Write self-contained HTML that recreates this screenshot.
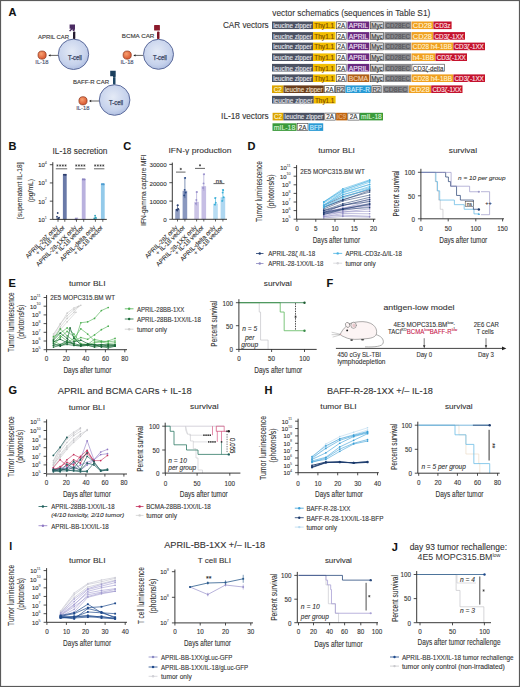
<!DOCTYPE html>
<html><head><meta charset="utf-8"><style>
html,body{margin:0;padding:0;background:#fff;}
svg{display:block;}
text{font-family:"Liberation Sans", sans-serif;}
</style></head><body>
<svg width="520" height="687" viewBox="0 0 520 687" font-family='"Liberation Sans", sans-serif'>
<defs>
<radialGradient id="cellg" cx="0.45" cy="0.4" r="0.65"><stop offset="0" stop-color="#e4eaf6"/><stop offset="0.7" stop-color="#c6d2ec"/><stop offset="1" stop-color="#a9b9de"/></radialGradient>
<radialGradient id="ballg" cx="0.4" cy="0.35" r="0.7"><stop offset="0" stop-color="#f8a070"/><stop offset="1" stop-color="#d5502a"/></radialGradient>
</defs>
<rect width="520" height="687" fill="#fff"/>
<rect x="0.50" y="0.50" width="519.00" height="686.00" fill="none" stroke="#5a5a5a" stroke-width="1.2" />
<text x="8.60" y="11.90" font-size="11.0" fill="#111" stroke="#111" stroke-width="0.1" font-weight="bold" dominant-baseline="central" >A</text>
<circle cx="73.5" cy="54.3" r="15.2" fill="url(#cellg)" stroke="#5d6c9c" stroke-width="1.0"/>
<text x="74.90" y="57.10" font-size="6.6" fill="#34405e" stroke="#34405e" stroke-width="0.25" text-anchor="middle" textLength="14" lengthAdjust="spacingAndGlyphs" dominant-baseline="central" >T-cell</text>
<circle cx="42.1" cy="55.1" r="4.1" fill="url(#ballg)" stroke="#8a3418" stroke-width="0.7"/>
<text x="41.90" y="62.30" font-size="5.9" fill="#4a5572" stroke="#4a5572" stroke-width="0.15" text-anchor="middle" textLength="13.2" lengthAdjust="spacingAndGlyphs" dominant-baseline="central" >IL-18</text>
<line x1="58.00" y1="55.40" x2="49.80" y2="55.40" stroke="#222" stroke-width="0.7" />
<path d="M48.30,55.40 l2.2,-1.2 l0,2.4 z" fill="#222"/>
<circle cx="158.5" cy="54.3" r="15.0" fill="url(#cellg)" stroke="#5d6c9c" stroke-width="1.0"/>
<text x="159.90" y="57.10" font-size="6.6" fill="#34405e" stroke="#34405e" stroke-width="0.25" text-anchor="middle" textLength="14" lengthAdjust="spacingAndGlyphs" dominant-baseline="central" >T-cell</text>
<circle cx="127.2" cy="55.1" r="4.1" fill="url(#ballg)" stroke="#8a3418" stroke-width="0.7"/>
<text x="127.00" y="62.30" font-size="5.9" fill="#4a5572" stroke="#4a5572" stroke-width="0.15" text-anchor="middle" textLength="13.2" lengthAdjust="spacingAndGlyphs" dominant-baseline="central" >IL-18</text>
<line x1="143.00" y1="55.40" x2="134.80" y2="55.40" stroke="#222" stroke-width="0.7" />
<path d="M133.30,55.40 l2.2,-1.2 l0,2.4 z" fill="#222"/>
<circle cx="114.6" cy="100" r="15.3" fill="url(#cellg)" stroke="#5d6c9c" stroke-width="1.0"/>
<text x="116.00" y="102.80" font-size="6.6" fill="#34405e" stroke="#34405e" stroke-width="0.25" text-anchor="middle" textLength="14" lengthAdjust="spacingAndGlyphs" dominant-baseline="central" >T-cell</text>
<circle cx="83" cy="100.8" r="4.1" fill="url(#ballg)" stroke="#8a3418" stroke-width="0.7"/>
<text x="82.80" y="108.00" font-size="5.9" fill="#4a5572" stroke="#4a5572" stroke-width="0.15" text-anchor="middle" textLength="13.2" lengthAdjust="spacingAndGlyphs" dominant-baseline="central" >IL-18</text>
<line x1="99.00" y1="101.00" x2="90.50" y2="101.00" stroke="#222" stroke-width="0.7" />
<path d="M89.00,101.00 l2.2,-1.2 l0,2.4 z" fill="#222"/>
<text x="38.00" y="36.60" font-size="6.2" fill="#3c3c3c" stroke="#3c3c3c" stroke-width="0.15" textLength="31" lengthAdjust="spacingAndGlyphs" dominant-baseline="central" >APRIL CAR</text>
<text x="121.80" y="35.60" font-size="6.2" fill="#3c3c3c" stroke="#3c3c3c" stroke-width="0.15" textLength="32.5" lengthAdjust="spacingAndGlyphs" dominant-baseline="central" >BCMA CAR</text>
<text x="73.00" y="81.60" font-size="6.2" fill="#3c3c3c" stroke="#3c3c3c" stroke-width="0.15" textLength="36" lengthAdjust="spacingAndGlyphs" dominant-baseline="central" >BAFF-R CAR</text>
<rect x="73.00" y="31.40" width="2.30" height="7.60" fill="#231a2e" rx="0.8" />
<path d="M69.6,24.4 h5.4 v4.6 l-0.6,2 h-1.6 l-0.4,-1.8 l-2.2,2.4 l-1.2,-0.9 l2.1,-2 h-1.5 z" fill="#4b2c63"/>
<rect x="157.00" y="31.40" width="2.50" height="7.60" fill="#7e1626" rx="0.8" />
<rect x="154.10" y="25.00" width="5.80" height="5.40" fill="#8c1a2c" rx="0.5" />
<rect x="113.00" y="77.30" width="2.50" height="7.20" fill="#1e4766" rx="0.8" />
<path d="M110.2,70.8 h5.5 v5.4 l-0.3,1.4 h-2.4 v-1.4 h-2.8 z" fill="#1c3f5e"/>
<text x="272.30" y="13.40" font-size="8.75" fill="#333" stroke="#333" stroke-width="0.1" textLength="158" lengthAdjust="spacingAndGlyphs" dominant-baseline="central" >vector schematics (sequences in Table S1)</text>
<text x="222.90" y="25.00" font-size="8.8" fill="#333" stroke="#333" stroke-width="0.1" textLength="45.8" lengthAdjust="spacingAndGlyphs" dominant-baseline="central" >CAR vectors</text>
<text x="221.10" y="116.10" font-size="8.6" fill="#333" stroke="#333" stroke-width="0.1" textLength="47.6" lengthAdjust="spacingAndGlyphs" dominant-baseline="central" >IL-18 vectors</text>
<rect x="272.00" y="21.50" width="41.00" height="7.60" fill="#4c5262" />
<text x="292.50" y="25.65" font-size="6.3" fill="#e6e8ee" stroke="#e6e8ee" stroke-width="0.12" text-anchor="middle" textLength="38.6" lengthAdjust="spacingAndGlyphs" dominant-baseline="central" >leucine zipper</text>
<rect x="313.00" y="21.50" width="22.50" height="7.60" fill="#f2be00" />
<text x="324.25" y="25.65" font-size="6.3" fill="#7a4a00" stroke="#7a4a00" stroke-width="0.12" text-anchor="middle" textLength="20.1" lengthAdjust="spacingAndGlyphs" dominant-baseline="central" >Thy1.1</text>
<rect x="336.30" y="21.80" width="9.90" height="7.00" fill="#ffffff" stroke="#3a3a3a" stroke-width="0.6" />
<text x="341.25" y="25.65" font-size="6.3" fill="#333333" stroke="#333333" stroke-width="0.12" text-anchor="middle" dominant-baseline="central" >2A</text>
<rect x="347.50" y="21.50" width="21.80" height="7.60" fill="#6a2a80" />
<text x="358.40" y="25.65" font-size="6.3" fill="#f2e6f6" stroke="#f2e6f6" stroke-width="0.12" text-anchor="middle" textLength="19.400000000000013" lengthAdjust="spacingAndGlyphs" dominant-baseline="central" >APRIL</text>
<rect x="370.30" y="21.80" width="13.40" height="7.00" fill="#d6d6d6" stroke="#3a3a3a" stroke-width="0.6" />
<text x="377.00" y="25.65" font-size="6.3" fill="#333333" stroke="#333333" stroke-width="0.12" text-anchor="middle" textLength="11.6" lengthAdjust="spacingAndGlyphs" dominant-baseline="central" >Myc</text>
<rect x="384.40" y="21.50" width="26.80" height="7.60" fill="#8a8a8e" />
<text x="397.80" y="25.65" font-size="6.3" fill="#505055" stroke="#505055" stroke-width="0.12" text-anchor="middle" textLength="24.400000000000013" lengthAdjust="spacingAndGlyphs" dominant-baseline="central" >CD28EC</text>
<rect x="411.60" y="21.50" width="21.60" height="7.60" fill="#f0a020" />
<text x="422.40" y="25.65" font-size="6.3" fill="#fff3d6" stroke="#fff3d6" stroke-width="0.12" text-anchor="middle" textLength="19.199999999999967" lengthAdjust="spacingAndGlyphs" dominant-baseline="central" >CD28</text>
<rect x="433.40" y="21.50" width="18.20" height="7.60" fill="#c4122e" />
<text x="442.50" y="25.65" font-size="6.3" fill="#ffe8ea" stroke="#ffe8ea" stroke-width="0.12" text-anchor="middle" textLength="15.800000000000045" lengthAdjust="spacingAndGlyphs" dominant-baseline="central" >CD3z</text>
<rect x="272.00" y="32.10" width="41.00" height="7.60" fill="#4c5262" />
<text x="292.50" y="36.25" font-size="6.3" fill="#e6e8ee" stroke="#e6e8ee" stroke-width="0.12" text-anchor="middle" textLength="38.6" lengthAdjust="spacingAndGlyphs" dominant-baseline="central" >leucine zipper</text>
<rect x="313.00" y="32.10" width="22.50" height="7.60" fill="#f2be00" />
<text x="324.25" y="36.25" font-size="6.3" fill="#7a4a00" stroke="#7a4a00" stroke-width="0.12" text-anchor="middle" textLength="20.1" lengthAdjust="spacingAndGlyphs" dominant-baseline="central" >Thy1.1</text>
<rect x="336.30" y="32.40" width="9.90" height="7.00" fill="#ffffff" stroke="#3a3a3a" stroke-width="0.6" />
<text x="341.25" y="36.25" font-size="6.3" fill="#333333" stroke="#333333" stroke-width="0.12" text-anchor="middle" dominant-baseline="central" >2A</text>
<rect x="347.50" y="32.10" width="21.80" height="7.60" fill="#6a2a80" />
<text x="358.40" y="36.25" font-size="6.3" fill="#f2e6f6" stroke="#f2e6f6" stroke-width="0.12" text-anchor="middle" textLength="19.400000000000013" lengthAdjust="spacingAndGlyphs" dominant-baseline="central" >APRIL</text>
<rect x="370.30" y="32.40" width="13.40" height="7.00" fill="#d6d6d6" stroke="#3a3a3a" stroke-width="0.6" />
<text x="377.00" y="36.25" font-size="6.3" fill="#333333" stroke="#333333" stroke-width="0.12" text-anchor="middle" textLength="11.6" lengthAdjust="spacingAndGlyphs" dominant-baseline="central" >Myc</text>
<rect x="384.40" y="32.10" width="26.80" height="7.60" fill="#8a8a8e" />
<text x="397.80" y="36.25" font-size="6.3" fill="#505055" stroke="#505055" stroke-width="0.12" text-anchor="middle" textLength="24.400000000000013" lengthAdjust="spacingAndGlyphs" dominant-baseline="central" >CD28EC</text>
<rect x="411.60" y="32.10" width="21.60" height="7.60" fill="#f0a020" />
<text x="422.40" y="36.25" font-size="6.3" fill="#fff3d6" stroke="#fff3d6" stroke-width="0.12" text-anchor="middle" textLength="19.199999999999967" lengthAdjust="spacingAndGlyphs" dominant-baseline="central" >CD28</text>
<rect x="433.40" y="32.10" width="31.60" height="7.60" fill="#c4122e" />
<text x="449.20" y="36.25" font-size="6.3" fill="#ffe8ea" stroke="#ffe8ea" stroke-width="0.12" text-anchor="middle" textLength="29.200000000000024" lengthAdjust="spacingAndGlyphs" dominant-baseline="central" >CD3ζ-1XX</text>
<rect x="272.00" y="42.60" width="41.00" height="7.60" fill="#4c5262" />
<text x="292.50" y="46.75" font-size="6.3" fill="#e6e8ee" stroke="#e6e8ee" stroke-width="0.12" text-anchor="middle" textLength="38.6" lengthAdjust="spacingAndGlyphs" dominant-baseline="central" >leucine zipper</text>
<rect x="313.00" y="42.60" width="22.50" height="7.60" fill="#f2be00" />
<text x="324.25" y="46.75" font-size="6.3" fill="#7a4a00" stroke="#7a4a00" stroke-width="0.12" text-anchor="middle" textLength="20.1" lengthAdjust="spacingAndGlyphs" dominant-baseline="central" >Thy1.1</text>
<rect x="336.30" y="42.90" width="9.90" height="7.00" fill="#ffffff" stroke="#3a3a3a" stroke-width="0.6" />
<text x="341.25" y="46.75" font-size="6.3" fill="#333333" stroke="#333333" stroke-width="0.12" text-anchor="middle" dominant-baseline="central" >2A</text>
<rect x="347.50" y="42.60" width="21.80" height="7.60" fill="#6a2a80" />
<text x="358.40" y="46.75" font-size="6.3" fill="#f2e6f6" stroke="#f2e6f6" stroke-width="0.12" text-anchor="middle" textLength="19.400000000000013" lengthAdjust="spacingAndGlyphs" dominant-baseline="central" >APRIL</text>
<rect x="370.30" y="42.90" width="13.40" height="7.00" fill="#d6d6d6" stroke="#3a3a3a" stroke-width="0.6" />
<text x="377.00" y="46.75" font-size="6.3" fill="#333333" stroke="#333333" stroke-width="0.12" text-anchor="middle" textLength="11.6" lengthAdjust="spacingAndGlyphs" dominant-baseline="central" >Myc</text>
<rect x="384.40" y="42.60" width="26.80" height="7.60" fill="#8a8a8e" />
<text x="397.80" y="46.75" font-size="6.3" fill="#505055" stroke="#505055" stroke-width="0.12" text-anchor="middle" textLength="24.400000000000013" lengthAdjust="spacingAndGlyphs" dominant-baseline="central" >CD28EC</text>
<rect x="411.60" y="42.60" width="41.60" height="7.60" fill="#f0a020" />
<text x="432.40" y="46.75" font-size="6.3" fill="#fff3d6" stroke="#fff3d6" stroke-width="0.12" text-anchor="middle" textLength="39.19999999999997" lengthAdjust="spacingAndGlyphs" dominant-baseline="central" >CD28 h4-1BB</text>
<rect x="453.40" y="42.60" width="31.60" height="7.60" fill="#c4122e" />
<text x="469.20" y="46.75" font-size="6.3" fill="#ffe8ea" stroke="#ffe8ea" stroke-width="0.12" text-anchor="middle" textLength="29.200000000000024" lengthAdjust="spacingAndGlyphs" dominant-baseline="central" >CD3ζ-1XX</text>
<rect x="272.00" y="53.40" width="41.00" height="7.60" fill="#4c5262" />
<text x="292.50" y="57.55" font-size="6.3" fill="#e6e8ee" stroke="#e6e8ee" stroke-width="0.12" text-anchor="middle" textLength="38.6" lengthAdjust="spacingAndGlyphs" dominant-baseline="central" >leucine zipper</text>
<rect x="313.00" y="53.40" width="22.50" height="7.60" fill="#f2be00" />
<text x="324.25" y="57.55" font-size="6.3" fill="#7a4a00" stroke="#7a4a00" stroke-width="0.12" text-anchor="middle" textLength="20.1" lengthAdjust="spacingAndGlyphs" dominant-baseline="central" >Thy1.1</text>
<rect x="336.30" y="53.70" width="9.90" height="7.00" fill="#ffffff" stroke="#3a3a3a" stroke-width="0.6" />
<text x="341.25" y="57.55" font-size="6.3" fill="#333333" stroke="#333333" stroke-width="0.12" text-anchor="middle" dominant-baseline="central" >2A</text>
<rect x="347.50" y="53.40" width="21.80" height="7.60" fill="#6a2a80" />
<text x="358.40" y="57.55" font-size="6.3" fill="#f2e6f6" stroke="#f2e6f6" stroke-width="0.12" text-anchor="middle" textLength="19.400000000000013" lengthAdjust="spacingAndGlyphs" dominant-baseline="central" >APRIL</text>
<rect x="370.30" y="53.70" width="13.40" height="7.00" fill="#d6d6d6" stroke="#3a3a3a" stroke-width="0.6" />
<text x="377.00" y="57.55" font-size="6.3" fill="#333333" stroke="#333333" stroke-width="0.12" text-anchor="middle" textLength="11.6" lengthAdjust="spacingAndGlyphs" dominant-baseline="central" >Myc</text>
<rect x="384.40" y="53.40" width="26.80" height="7.60" fill="#8a8a8e" />
<text x="397.80" y="57.55" font-size="6.3" fill="#505055" stroke="#505055" stroke-width="0.12" text-anchor="middle" textLength="24.400000000000013" lengthAdjust="spacingAndGlyphs" dominant-baseline="central" >CD28EC</text>
<rect x="411.60" y="53.40" width="23.70" height="7.60" fill="#f0a020" />
<text x="423.45" y="57.55" font-size="6.3" fill="#fff3d6" stroke="#fff3d6" stroke-width="0.12" text-anchor="middle" textLength="21.29999999999999" lengthAdjust="spacingAndGlyphs" dominant-baseline="central" >h4-1BB</text>
<rect x="435.50" y="53.40" width="31.50" height="7.60" fill="#c4122e" />
<text x="451.25" y="57.55" font-size="6.3" fill="#ffe8ea" stroke="#ffe8ea" stroke-width="0.12" text-anchor="middle" textLength="29.1" lengthAdjust="spacingAndGlyphs" dominant-baseline="central" >CD3ζ-1XX</text>
<rect x="272.00" y="63.90" width="41.00" height="7.60" fill="#4c5262" />
<text x="292.50" y="68.05" font-size="6.3" fill="#e6e8ee" stroke="#e6e8ee" stroke-width="0.12" text-anchor="middle" textLength="38.6" lengthAdjust="spacingAndGlyphs" dominant-baseline="central" >leucine zipper</text>
<rect x="313.00" y="63.90" width="22.50" height="7.60" fill="#f2be00" />
<text x="324.25" y="68.05" font-size="6.3" fill="#7a4a00" stroke="#7a4a00" stroke-width="0.12" text-anchor="middle" textLength="20.1" lengthAdjust="spacingAndGlyphs" dominant-baseline="central" >Thy1.1</text>
<rect x="336.30" y="64.20" width="9.90" height="7.00" fill="#ffffff" stroke="#3a3a3a" stroke-width="0.6" />
<text x="341.25" y="68.05" font-size="6.3" fill="#333333" stroke="#333333" stroke-width="0.12" text-anchor="middle" dominant-baseline="central" >2A</text>
<rect x="347.50" y="63.90" width="21.80" height="7.60" fill="#6a2a80" />
<text x="358.40" y="68.05" font-size="6.3" fill="#f2e6f6" stroke="#f2e6f6" stroke-width="0.12" text-anchor="middle" textLength="19.400000000000013" lengthAdjust="spacingAndGlyphs" dominant-baseline="central" >APRIL</text>
<rect x="370.30" y="64.20" width="13.40" height="7.00" fill="#d6d6d6" stroke="#3a3a3a" stroke-width="0.6" />
<text x="377.00" y="68.05" font-size="6.3" fill="#333333" stroke="#333333" stroke-width="0.12" text-anchor="middle" textLength="11.6" lengthAdjust="spacingAndGlyphs" dominant-baseline="central" >Myc</text>
<rect x="384.40" y="63.90" width="26.80" height="7.60" fill="#8a8a8e" />
<text x="397.80" y="68.05" font-size="6.3" fill="#505055" stroke="#505055" stroke-width="0.12" text-anchor="middle" textLength="24.400000000000013" lengthAdjust="spacingAndGlyphs" dominant-baseline="central" >CD28EC</text>
<rect x="411.90" y="64.20" width="32.40" height="7.00" fill="#ffffff" stroke="#3a3a3a" stroke-width="0.6" />
<text x="428.10" y="68.05" font-size="6.3" fill="#333333" stroke="#333333" stroke-width="0.12" text-anchor="middle" textLength="30.6" lengthAdjust="spacingAndGlyphs" dominant-baseline="central" >CD3ζ-delta</text>
<rect x="272.00" y="74.40" width="41.00" height="7.60" fill="#4c5262" />
<text x="292.50" y="78.55" font-size="6.3" fill="#e6e8ee" stroke="#e6e8ee" stroke-width="0.12" text-anchor="middle" textLength="38.6" lengthAdjust="spacingAndGlyphs" dominant-baseline="central" >leucine zipper</text>
<rect x="313.00" y="74.40" width="22.50" height="7.60" fill="#f2be00" />
<text x="324.25" y="78.55" font-size="6.3" fill="#7a4a00" stroke="#7a4a00" stroke-width="0.12" text-anchor="middle" textLength="20.1" lengthAdjust="spacingAndGlyphs" dominant-baseline="central" >Thy1.1</text>
<rect x="336.30" y="74.70" width="9.90" height="7.00" fill="#ffffff" stroke="#3a3a3a" stroke-width="0.6" />
<text x="341.25" y="78.55" font-size="6.3" fill="#333333" stroke="#333333" stroke-width="0.12" text-anchor="middle" dominant-baseline="central" >2A</text>
<rect x="347.50" y="74.40" width="21.80" height="7.60" fill="#b0601a" />
<text x="358.40" y="78.55" font-size="6.3" fill="#f4d8b8" stroke="#f4d8b8" stroke-width="0.12" text-anchor="middle" textLength="19.400000000000013" lengthAdjust="spacingAndGlyphs" dominant-baseline="central" >BCMA</text>
<rect x="370.30" y="74.70" width="13.40" height="7.00" fill="#d6d6d6" stroke="#3a3a3a" stroke-width="0.6" />
<text x="377.00" y="78.55" font-size="6.3" fill="#333333" stroke="#333333" stroke-width="0.12" text-anchor="middle" textLength="11.6" lengthAdjust="spacingAndGlyphs" dominant-baseline="central" >Myc</text>
<rect x="384.40" y="74.40" width="26.80" height="7.60" fill="#8a8a8e" />
<text x="397.80" y="78.55" font-size="6.3" fill="#505055" stroke="#505055" stroke-width="0.12" text-anchor="middle" textLength="24.400000000000013" lengthAdjust="spacingAndGlyphs" dominant-baseline="central" >CD28EC</text>
<rect x="411.60" y="74.40" width="41.60" height="7.60" fill="#f0a020" />
<text x="432.40" y="78.55" font-size="6.3" fill="#fff3d6" stroke="#fff3d6" stroke-width="0.12" text-anchor="middle" textLength="39.19999999999997" lengthAdjust="spacingAndGlyphs" dominant-baseline="central" >CD28 h4-1BB</text>
<rect x="453.40" y="74.40" width="31.60" height="7.60" fill="#c4122e" />
<text x="469.20" y="78.55" font-size="6.3" fill="#ffe8ea" stroke="#ffe8ea" stroke-width="0.12" text-anchor="middle" textLength="29.200000000000024" lengthAdjust="spacingAndGlyphs" dominant-baseline="central" >CD3ζ-1XX</text>
<rect x="272.00" y="85.40" width="11.50" height="7.60" fill="#dba400" />
<text x="277.75" y="89.55" font-size="6.3" fill="#fff8d8" stroke="#fff8d8" stroke-width="0.12" text-anchor="middle" dominant-baseline="central" >C2</text>
<rect x="283.50" y="85.40" width="40.30" height="7.60" fill="#6a3e1c" />
<text x="303.65" y="89.55" font-size="6.3" fill="#f2e2d0" stroke="#f2e2d0" stroke-width="0.12" text-anchor="middle" textLength="37.90000000000001" lengthAdjust="spacingAndGlyphs" dominant-baseline="central" >leucine zipper</text>
<rect x="324.50" y="85.70" width="10.00" height="7.00" fill="#ffffff" stroke="#3a3a3a" stroke-width="0.6" />
<text x="329.50" y="89.55" font-size="6.3" fill="#333333" stroke="#333333" stroke-width="0.12" text-anchor="middle" dominant-baseline="central" >2A</text>
<rect x="335.50" y="85.70" width="9.40" height="7.00" fill="#cfcfd2" stroke="#3a3a3a" stroke-width="0.6" />
<text x="340.20" y="89.55" font-size="6.3" fill="#444444" stroke="#444444" stroke-width="0.12" text-anchor="middle" dominant-baseline="central" >R2</text>
<rect x="345.40" y="85.40" width="25.60" height="7.60" fill="#2a9ad4" />
<text x="358.20" y="89.55" font-size="6.3" fill="#d8f0ff" stroke="#d8f0ff" stroke-width="0.12" text-anchor="middle" textLength="23.200000000000024" lengthAdjust="spacingAndGlyphs" dominant-baseline="central" >BAFF-R</text>
<rect x="371.80" y="85.70" width="9.40" height="7.00" fill="#cfcfd2" stroke="#3a3a3a" stroke-width="0.6" />
<text x="376.50" y="89.55" font-size="6.3" fill="#444444" stroke="#444444" stroke-width="0.12" text-anchor="middle" dominant-baseline="central" >R2</text>
<rect x="382.60" y="85.40" width="26.00" height="7.60" fill="#8a8a8e" />
<text x="395.60" y="89.55" font-size="6.3" fill="#505055" stroke="#505055" stroke-width="0.12" text-anchor="middle" textLength="23.6" lengthAdjust="spacingAndGlyphs" dominant-baseline="central" >CD8EC</text>
<rect x="409.00" y="85.40" width="22.00" height="7.60" fill="#f0a020" />
<text x="420.00" y="89.55" font-size="6.3" fill="#fff3d6" stroke="#fff3d6" stroke-width="0.12" text-anchor="middle" textLength="19.6" lengthAdjust="spacingAndGlyphs" dominant-baseline="central" >CD28</text>
<rect x="431.20" y="85.40" width="31.30" height="7.60" fill="#c4122e" />
<text x="446.85" y="89.55" font-size="6.3" fill="#ffe8ea" stroke="#ffe8ea" stroke-width="0.12" text-anchor="middle" textLength="28.900000000000013" lengthAdjust="spacingAndGlyphs" dominant-baseline="central" >CD3ζ-1XX</text>
<rect x="272.00" y="95.90" width="41.80" height="7.60" fill="#4c5262" />
<text x="292.90" y="100.05" font-size="6.3" fill="#e6e8ee" stroke="#e6e8ee" stroke-width="0.12" text-anchor="middle" textLength="39.40000000000001" lengthAdjust="spacingAndGlyphs" dominant-baseline="central" >leucine zipper</text>
<rect x="313.80" y="95.90" width="21.80" height="7.60" fill="#f2be00" />
<text x="324.70" y="100.05" font-size="6.3" fill="#7a4a00" stroke="#7a4a00" stroke-width="0.12" text-anchor="middle" textLength="19.400000000000013" lengthAdjust="spacingAndGlyphs" dominant-baseline="central" >Thy1.1</text>
<rect x="272.60" y="112.80" width="10.80" height="7.60" fill="#dba400" />
<text x="278.00" y="116.95" font-size="6.3" fill="#fff8d8" stroke="#fff8d8" stroke-width="0.12" text-anchor="middle" dominant-baseline="central" >C2</text>
<rect x="283.40" y="112.80" width="40.80" height="7.60" fill="#4c5262" />
<text x="303.80" y="116.95" font-size="6.3" fill="#e6e8ee" stroke="#e6e8ee" stroke-width="0.12" text-anchor="middle" textLength="38.40000000000001" lengthAdjust="spacingAndGlyphs" dominant-baseline="central" >leucine zipper</text>
<rect x="324.80" y="113.10" width="10.70" height="7.00" fill="#ffffff" stroke="#3a3a3a" stroke-width="0.6" />
<text x="330.15" y="116.95" font-size="6.3" fill="#333333" stroke="#333333" stroke-width="0.12" text-anchor="middle" dominant-baseline="central" >2A</text>
<rect x="336.10" y="112.80" width="11.10" height="7.60" fill="#c0650e" />
<text x="341.65" y="116.95" font-size="6.3" fill="#e8b888" stroke="#e8b888" stroke-width="0.12" text-anchor="middle" textLength="8.699999999999966" lengthAdjust="spacingAndGlyphs" dominant-baseline="central" >iC9</text>
<rect x="347.80" y="113.10" width="11.50" height="7.00" fill="#ffffff" stroke="#3a3a3a" stroke-width="0.6" />
<text x="353.55" y="116.95" font-size="6.3" fill="#333333" stroke="#333333" stroke-width="0.12" text-anchor="middle" dominant-baseline="central" >2A</text>
<rect x="359.90" y="112.80" width="23.10" height="7.60" fill="#3a9a3a" />
<text x="371.45" y="116.95" font-size="6.3" fill="#d8f4d8" stroke="#d8f4d8" stroke-width="0.12" text-anchor="middle" textLength="20.700000000000024" lengthAdjust="spacingAndGlyphs" dominant-baseline="central" >mIL-18</text>
<rect x="272.50" y="123.30" width="24.10" height="7.60" fill="#3a9a3a" />
<text x="284.55" y="127.45" font-size="6.3" fill="#d8f4d8" stroke="#d8f4d8" stroke-width="0.12" text-anchor="middle" textLength="21.700000000000024" lengthAdjust="spacingAndGlyphs" dominant-baseline="central" >mIL-18</text>
<rect x="297.20" y="123.60" width="10.80" height="7.00" fill="#ffffff" stroke="#3a3a3a" stroke-width="0.6" />
<text x="302.60" y="127.45" font-size="6.3" fill="#333333" stroke="#333333" stroke-width="0.12" text-anchor="middle" dominant-baseline="central" >2A</text>
<rect x="308.60" y="123.30" width="14.60" height="7.60" fill="#2a9ad4" />
<text x="315.90" y="127.45" font-size="6.3" fill="#d8f0ff" stroke="#d8f0ff" stroke-width="0.12" text-anchor="middle" textLength="12.199999999999966" lengthAdjust="spacingAndGlyphs" dominant-baseline="central" >BFP</text>
<text x="8.60" y="145.90" font-size="11.0" fill="#111" stroke="#111" stroke-width="0.1" font-weight="bold" dominant-baseline="central" >B</text>
<text x="80.00" y="150.60" font-size="8.3" fill="#333" stroke="#333" stroke-width="0.1" text-anchor="middle" textLength="55" lengthAdjust="spacingAndGlyphs" dominant-baseline="central" >IL-18 secretion</text>
<text x="20.00" y="190.70" font-size="7.8" fill="#333" stroke="#333" stroke-width="0.1" text-anchor="middle" textLength="56.5" lengthAdjust="spacingAndGlyphs" dominant-baseline="central" transform="rotate(-90 20.00 190.70)" >[supernatant IL-18]</text>
<text x="30.30" y="190.60" font-size="7.8" fill="#333" stroke="#333" stroke-width="0.1" text-anchor="middle" textLength="23.5" lengthAdjust="spacingAndGlyphs" dominant-baseline="central" transform="rotate(-90 30.30 190.60)" >(pg/mL)</text>
<rect x="62.90" y="174.20" width="3.80" height="45.20" fill="#6a7aa8" />
<line x1="63.20" y1="174.40" x2="66.40" y2="174.40" stroke="#2a3a6a" stroke-width="0.9" />
<rect x="81.80" y="178.90" width="3.80" height="40.50" fill="#b9b1de" />
<line x1="82.10" y1="179.10" x2="85.30" y2="179.10" stroke="#7a72b0" stroke-width="0.9" />
<rect x="100.90" y="183.70" width="3.80" height="35.70" fill="#93caea" />
<line x1="101.20" y1="183.90" x2="104.40" y2="183.90" stroke="#3a90c8" stroke-width="0.9" />
<rect x="56.40" y="217.58" width="3.20" height="1.82" fill="#2a3f70" opacity="0.6"/>
<circle cx="57.00" cy="216.67" r="0.9" fill="#2a3f70" />
<circle cx="57.70" cy="213.02" r="0.9" fill="#2a3f70" />
<circle cx="58.40" cy="218.49" r="0.9" fill="#2a3f70" />
<circle cx="59.10" cy="217.58" r="0.9" fill="#2a3f70" />
<rect x="74.90" y="217.58" width="3.20" height="1.82" fill="#8a82c0" opacity="0.6"/>
<circle cx="75.50" cy="219.40" r="0.9" fill="#8a82c0" />
<circle cx="76.20" cy="219.04" r="0.9" fill="#8a82c0" />
<rect x="93.80" y="217.58" width="3.20" height="1.82" fill="#2aa0b8" opacity="0.6"/>
<circle cx="94.40" cy="218.49" r="0.9" fill="#2aa0b8" />
<circle cx="95.10" cy="215.75" r="0.9" fill="#2aa0b8" />
<circle cx="95.80" cy="217.58" r="0.9" fill="#2aa0b8" />
<circle cx="64.00" cy="174.80" r="0.9" fill="#2a3a6a" />
<circle cx="65.60" cy="174.90" r="0.9" fill="#2a3a6a" />
<circle cx="82.90" cy="179.50" r="0.9" fill="#8a82c0" />
<circle cx="84.50" cy="179.60" r="0.9" fill="#8a82c0" />
<circle cx="102.00" cy="184.30" r="0.9" fill="#4a9ad0" />
<circle cx="103.60" cy="184.40" r="0.9" fill="#4a9ad0" />
<line x1="52.80" y1="162.20" x2="52.80" y2="219.40" stroke="#222" stroke-width="0.9" />
<line x1="49.80" y1="164.70" x2="52.80" y2="164.70" stroke="#222" stroke-width="0.8" />
<text x="46.80" y="165.20" font-size="5.9" fill="#333" stroke="#333" stroke-width="0.12" text-anchor="end" dominant-baseline="central">10<tspan font-size="3.7" dy="-2.3" fill="#666" stroke="#666" stroke-width="0.08">4</tspan></text>
<line x1="49.80" y1="182.93" x2="52.80" y2="182.93" stroke="#222" stroke-width="0.8" />
<text x="46.80" y="183.43" font-size="5.9" fill="#333" stroke="#333" stroke-width="0.12" text-anchor="end" dominant-baseline="central">10<tspan font-size="3.7" dy="-2.3" fill="#666" stroke="#666" stroke-width="0.08">3</tspan></text>
<line x1="49.80" y1="201.17" x2="52.80" y2="201.17" stroke="#222" stroke-width="0.8" />
<text x="46.80" y="201.67" font-size="5.9" fill="#333" stroke="#333" stroke-width="0.12" text-anchor="end" dominant-baseline="central">10<tspan font-size="3.7" dy="-2.3" fill="#666" stroke="#666" stroke-width="0.08">2</tspan></text>
<line x1="49.80" y1="219.40" x2="52.80" y2="219.40" stroke="#222" stroke-width="0.8" />
<text x="46.80" y="219.90" font-size="5.9" fill="#333" stroke="#333" stroke-width="0.12" text-anchor="end" dominant-baseline="central">10<tspan font-size="3.7" dy="-2.3" fill="#666" stroke="#666" stroke-width="0.08">1</tspan></text>
<line x1="52.80" y1="219.40" x2="106.80" y2="219.40" stroke="#222" stroke-width="0.9" />
<line x1="58.00" y1="219.40" x2="58.00" y2="221.80" stroke="#222" stroke-width="0.7" />
<line x1="64.80" y1="219.40" x2="64.80" y2="221.80" stroke="#222" stroke-width="0.7" />
<line x1="76.50" y1="219.40" x2="76.50" y2="221.80" stroke="#222" stroke-width="0.7" />
<line x1="83.70" y1="219.40" x2="83.70" y2="221.80" stroke="#222" stroke-width="0.7" />
<line x1="95.40" y1="219.40" x2="95.40" y2="221.80" stroke="#222" stroke-width="0.7" />
<line x1="102.80" y1="219.40" x2="102.80" y2="221.80" stroke="#222" stroke-width="0.7" />
<line x1="55.80" y1="168.80" x2="67.20" y2="168.80" stroke="#222" stroke-width="0.7" />
<line x1="57.45" y1="164.35" x2="57.45" y2="166.65" stroke="#222" stroke-width="0.55" />
<line x1="56.45" y1="164.93" x2="58.45" y2="166.07" stroke="#222" stroke-width="0.55" />
<line x1="56.45" y1="166.07" x2="58.45" y2="164.93" stroke="#222" stroke-width="0.55" />
<line x1="60.15" y1="164.35" x2="60.15" y2="166.65" stroke="#222" stroke-width="0.55" />
<line x1="59.15" y1="164.93" x2="61.15" y2="166.07" stroke="#222" stroke-width="0.55" />
<line x1="59.15" y1="166.07" x2="61.15" y2="164.93" stroke="#222" stroke-width="0.55" />
<line x1="62.85" y1="164.35" x2="62.85" y2="166.65" stroke="#222" stroke-width="0.55" />
<line x1="61.85" y1="164.93" x2="63.85" y2="166.07" stroke="#222" stroke-width="0.55" />
<line x1="61.85" y1="166.07" x2="63.85" y2="164.93" stroke="#222" stroke-width="0.55" />
<line x1="65.55" y1="164.35" x2="65.55" y2="166.65" stroke="#222" stroke-width="0.55" />
<line x1="64.55" y1="164.93" x2="66.55" y2="166.07" stroke="#222" stroke-width="0.55" />
<line x1="64.55" y1="166.07" x2="66.55" y2="164.93" stroke="#222" stroke-width="0.55" />
<line x1="75.10" y1="168.80" x2="85.50" y2="168.80" stroke="#222" stroke-width="0.7" />
<line x1="76.25" y1="164.35" x2="76.25" y2="166.65" stroke="#222" stroke-width="0.55" />
<line x1="75.25" y1="164.93" x2="77.25" y2="166.07" stroke="#222" stroke-width="0.55" />
<line x1="75.25" y1="166.07" x2="77.25" y2="164.93" stroke="#222" stroke-width="0.55" />
<line x1="78.95" y1="164.35" x2="78.95" y2="166.65" stroke="#222" stroke-width="0.55" />
<line x1="77.95" y1="164.93" x2="79.95" y2="166.07" stroke="#222" stroke-width="0.55" />
<line x1="77.95" y1="166.07" x2="79.95" y2="164.93" stroke="#222" stroke-width="0.55" />
<line x1="81.65" y1="164.35" x2="81.65" y2="166.65" stroke="#222" stroke-width="0.55" />
<line x1="80.65" y1="164.93" x2="82.65" y2="166.07" stroke="#222" stroke-width="0.55" />
<line x1="80.65" y1="166.07" x2="82.65" y2="164.93" stroke="#222" stroke-width="0.55" />
<line x1="84.35" y1="164.35" x2="84.35" y2="166.65" stroke="#222" stroke-width="0.55" />
<line x1="83.35" y1="164.93" x2="85.35" y2="166.07" stroke="#222" stroke-width="0.55" />
<line x1="83.35" y1="166.07" x2="85.35" y2="164.93" stroke="#222" stroke-width="0.55" />
<line x1="94.00" y1="168.80" x2="104.40" y2="168.80" stroke="#222" stroke-width="0.7" />
<line x1="95.15" y1="164.35" x2="95.15" y2="166.65" stroke="#222" stroke-width="0.55" />
<line x1="94.15" y1="164.93" x2="96.15" y2="166.07" stroke="#222" stroke-width="0.55" />
<line x1="94.15" y1="166.07" x2="96.15" y2="164.93" stroke="#222" stroke-width="0.55" />
<line x1="97.85" y1="164.35" x2="97.85" y2="166.65" stroke="#222" stroke-width="0.55" />
<line x1="96.85" y1="164.93" x2="98.85" y2="166.07" stroke="#222" stroke-width="0.55" />
<line x1="96.85" y1="166.07" x2="98.85" y2="164.93" stroke="#222" stroke-width="0.55" />
<line x1="100.55" y1="164.35" x2="100.55" y2="166.65" stroke="#222" stroke-width="0.55" />
<line x1="99.55" y1="164.93" x2="101.55" y2="166.07" stroke="#222" stroke-width="0.55" />
<line x1="99.55" y1="166.07" x2="101.55" y2="164.93" stroke="#222" stroke-width="0.55" />
<line x1="103.25" y1="164.35" x2="103.25" y2="166.65" stroke="#222" stroke-width="0.55" />
<line x1="102.25" y1="164.93" x2="104.25" y2="166.07" stroke="#222" stroke-width="0.55" />
<line x1="102.25" y1="166.07" x2="104.25" y2="164.93" stroke="#222" stroke-width="0.55" />
<text x="56.80" y="226.30" font-size="6.3" fill="#333" stroke="#333" stroke-width="0.1" text-anchor="end" dominant-baseline="central" transform="rotate(-45 56.80 226.30)" >APRIL-28ζ only</text>
<text x="63.60" y="226.30" font-size="6.3" fill="#333" stroke="#333" stroke-width="0.1" text-anchor="end" dominant-baseline="central" transform="rotate(-45 63.60 226.30)" >+ IL-18 vector</text>
<text x="75.30" y="226.30" font-size="6.3" fill="#333" stroke="#333" stroke-width="0.1" text-anchor="end" dominant-baseline="central" transform="rotate(-45 75.30 226.30)" >APRIL-28-1XX only</text>
<text x="82.50" y="226.30" font-size="6.3" fill="#333" stroke="#333" stroke-width="0.1" text-anchor="end" dominant-baseline="central" transform="rotate(-45 82.50 226.30)" >+ IL-18 vector</text>
<text x="94.20" y="226.30" font-size="6.3" fill="#333" stroke="#333" stroke-width="0.1" text-anchor="end" dominant-baseline="central" transform="rotate(-45 94.20 226.30)" >APRIL-delta only</text>
<text x="101.60" y="226.30" font-size="6.3" fill="#333" stroke="#333" stroke-width="0.1" text-anchor="end" dominant-baseline="central" transform="rotate(-45 101.60 226.30)" >+ IL-18 vector</text>
<text x="123.30" y="145.90" font-size="11.0" fill="#111" stroke="#111" stroke-width="0.1" font-weight="bold" dominant-baseline="central" >C</text>
<text x="168.50" y="150.70" font-size="8.1" fill="#333" stroke="#333" stroke-width="0.1" textLength="63" lengthAdjust="spacingAndGlyphs" dominant-baseline="central" >IFN-γ production</text>
<text x="143.50" y="190.20" font-size="7.6" fill="#333" stroke="#333" stroke-width="0.1" text-anchor="middle" textLength="71" lengthAdjust="spacingAndGlyphs" dominant-baseline="central" transform="rotate(-90 143.50 190.20)" >IFN-gamma capture MFI</text>
<rect x="175.20" y="209.18" width="4.60" height="10.12" fill="#919ec2" />
<line x1="177.50" y1="211.02" x2="177.50" y2="205.32" stroke="#2a3f70" stroke-width="0.6" />
<line x1="176.50" y1="205.32" x2="178.50" y2="205.32" stroke="#2a3f70" stroke-width="0.6" />
<circle cx="176.75" cy="209.73" r="0.95" fill="#2a3f70" />
<circle cx="177.25" cy="210.47" r="0.95" fill="#2a3f70" />
<circle cx="177.75" cy="205.32" r="0.95" fill="#2a3f70" />
<circle cx="178.25" cy="209.00" r="0.95" fill="#2a3f70" />
<rect x="182.60" y="190.78" width="4.60" height="28.52" fill="#8a98bf" />
<line x1="184.90" y1="198.14" x2="184.90" y2="177.90" stroke="#2a4a86" stroke-width="0.6" />
<line x1="183.90" y1="177.90" x2="185.90" y2="177.90" stroke="#2a4a86" stroke-width="0.6" />
<circle cx="184.15" cy="195.38" r="0.95" fill="#2a4a86" />
<circle cx="184.65" cy="189.86" r="0.95" fill="#2a4a86" />
<circle cx="185.15" cy="177.90" r="0.95" fill="#2a4a86" />
<circle cx="185.65" cy="192.62" r="0.95" fill="#2a4a86" />
<rect x="194.30" y="201.82" width="4.60" height="17.48" fill="#cbc4e6" />
<line x1="196.60" y1="205.50" x2="196.60" y2="192.07" stroke="#9a92cc" stroke-width="0.6" />
<line x1="195.60" y1="192.07" x2="197.60" y2="192.07" stroke="#9a92cc" stroke-width="0.6" />
<circle cx="195.85" cy="203.66" r="0.95" fill="#9a92cc" />
<circle cx="196.35" cy="199.98" r="0.95" fill="#9a92cc" />
<circle cx="196.85" cy="192.07" r="0.95" fill="#9a92cc" />
<rect x="201.50" y="186.18" width="4.60" height="33.12" fill="#c6bee4" />
<line x1="203.80" y1="190.78" x2="203.80" y2="174.22" stroke="#9a92cc" stroke-width="0.6" />
<line x1="202.80" y1="174.22" x2="204.80" y2="174.22" stroke="#9a92cc" stroke-width="0.6" />
<circle cx="203.05" cy="188.02" r="0.95" fill="#9a92cc" />
<circle cx="203.55" cy="183.42" r="0.95" fill="#9a92cc" />
<circle cx="204.05" cy="174.22" r="0.95" fill="#9a92cc" />
<rect x="213.20" y="203.66" width="4.60" height="15.64" fill="#b8ddf3" />
<line x1="215.50" y1="205.50" x2="215.50" y2="197.59" stroke="#3ab0d8" stroke-width="0.6" />
<line x1="214.50" y1="197.59" x2="216.50" y2="197.59" stroke="#3ab0d8" stroke-width="0.6" />
<circle cx="214.75" cy="204.58" r="0.95" fill="#3ab0d8" />
<circle cx="215.25" cy="198.14" r="0.95" fill="#3ab0d8" />
<circle cx="215.75" cy="202.74" r="0.95" fill="#3ab0d8" />
<rect x="220.60" y="197.22" width="4.60" height="22.08" fill="#aed7f1" />
<line x1="222.90" y1="201.27" x2="222.90" y2="189.49" stroke="#3ab0d8" stroke-width="0.6" />
<line x1="221.90" y1="189.49" x2="223.90" y2="189.49" stroke="#3ab0d8" stroke-width="0.6" />
<circle cx="222.15" cy="200.90" r="0.95" fill="#3ab0d8" />
<circle cx="222.65" cy="192.62" r="0.95" fill="#3ab0d8" />
<circle cx="223.15" cy="190.23" r="0.95" fill="#3ab0d8" />
<circle cx="223.65" cy="197.22" r="0.95" fill="#3ab0d8" />
<line x1="172.30" y1="162.60" x2="172.30" y2="219.30" stroke="#222" stroke-width="0.9" />
<line x1="169.30" y1="164.40" x2="172.30" y2="164.40" stroke="#222" stroke-width="0.8" />
<text x="166.70" y="164.70" font-size="6.2" fill="#333" stroke="#333" stroke-width="0.1" text-anchor="end" dominant-baseline="central" >30000</text>
<line x1="169.30" y1="182.70" x2="172.30" y2="182.70" stroke="#222" stroke-width="0.8" />
<text x="166.70" y="183.00" font-size="6.2" fill="#333" stroke="#333" stroke-width="0.1" text-anchor="end" dominant-baseline="central" >20000</text>
<line x1="169.30" y1="201.10" x2="172.30" y2="201.10" stroke="#222" stroke-width="0.8" />
<text x="166.70" y="201.40" font-size="6.2" fill="#333" stroke="#333" stroke-width="0.1" text-anchor="end" dominant-baseline="central" >10000</text>
<line x1="169.30" y1="219.30" x2="172.30" y2="219.30" stroke="#222" stroke-width="0.8" />
<text x="166.70" y="219.60" font-size="6.2" fill="#333" stroke="#333" stroke-width="0.1" text-anchor="end" dominant-baseline="central" >0</text>
<line x1="172.30" y1="219.30" x2="227.00" y2="219.30" stroke="#222" stroke-width="0.9" />
<line x1="177.50" y1="219.30" x2="177.50" y2="221.50" stroke="#222" stroke-width="0.7" />
<line x1="184.90" y1="219.30" x2="184.90" y2="221.50" stroke="#222" stroke-width="0.7" />
<line x1="196.60" y1="219.30" x2="196.60" y2="221.50" stroke="#222" stroke-width="0.7" />
<line x1="203.80" y1="219.30" x2="203.80" y2="221.50" stroke="#222" stroke-width="0.7" />
<line x1="215.50" y1="219.30" x2="215.50" y2="221.50" stroke="#222" stroke-width="0.7" />
<line x1="222.90" y1="219.30" x2="222.90" y2="221.50" stroke="#222" stroke-width="0.7" />
<line x1="176.00" y1="172.10" x2="185.50" y2="172.10" stroke="#222" stroke-width="0.7" />
<line x1="180.75" y1="167.85" x2="180.75" y2="170.15" stroke="#222" stroke-width="0.55" />
<line x1="179.75" y1="168.43" x2="181.75" y2="169.57" stroke="#222" stroke-width="0.55" />
<line x1="179.75" y1="169.57" x2="181.75" y2="168.43" stroke="#222" stroke-width="0.55" />
<line x1="195.00" y1="168.40" x2="205.00" y2="168.40" stroke="#222" stroke-width="0.7" />
<line x1="200.00" y1="164.15" x2="200.00" y2="166.45" stroke="#222" stroke-width="0.55" />
<line x1="199.00" y1="164.73" x2="201.00" y2="165.88" stroke="#222" stroke-width="0.55" />
<line x1="199.00" y1="165.88" x2="201.00" y2="164.73" stroke="#222" stroke-width="0.55" />
<line x1="213.50" y1="183.60" x2="224.50" y2="183.60" stroke="#222" stroke-width="0.7" />
<text x="219.00" y="181.20" font-size="6.0" fill="#222" stroke="#222" stroke-width="0.1" text-anchor="middle" dominant-baseline="central" >ns</text>
<text x="176.30" y="226.30" font-size="6.3" fill="#333" stroke="#333" stroke-width="0.1" text-anchor="end" dominant-baseline="central" transform="rotate(-45 176.30 226.30)" >APRIL-28ζ only</text>
<text x="183.70" y="226.30" font-size="6.3" fill="#333" stroke="#333" stroke-width="0.1" text-anchor="end" dominant-baseline="central" transform="rotate(-45 183.70 226.30)" >+ IL-18 vector</text>
<text x="195.40" y="226.30" font-size="6.3" fill="#333" stroke="#333" stroke-width="0.1" text-anchor="end" dominant-baseline="central" transform="rotate(-45 195.40 226.30)" >APRIL-28-1XX only</text>
<text x="202.60" y="226.30" font-size="6.3" fill="#333" stroke="#333" stroke-width="0.1" text-anchor="end" dominant-baseline="central" transform="rotate(-45 202.60 226.30)" >+ IL-18 vector</text>
<text x="214.30" y="226.30" font-size="6.3" fill="#333" stroke="#333" stroke-width="0.1" text-anchor="end" dominant-baseline="central" transform="rotate(-45 214.30 226.30)" >APRIL-delta only</text>
<text x="221.70" y="226.30" font-size="6.3" fill="#333" stroke="#333" stroke-width="0.1" text-anchor="end" dominant-baseline="central" transform="rotate(-45 221.70 226.30)" >+ IL-18 vector</text>
<text x="247.40" y="146.40" font-size="11.0" fill="#111" stroke="#111" stroke-width="0.1" font-weight="bold" dominant-baseline="central" >D</text>
<text x="336.60" y="150.90" font-size="7.6" fill="#333" stroke="#333" stroke-width="0.1" text-anchor="middle" textLength="36.7" lengthAdjust="spacingAndGlyphs" dominant-baseline="central" >tumor BLI</text>
<text x="259.20" y="191.50" font-size="8.2" fill="#333" stroke="#333" stroke-width="0.1" text-anchor="middle" textLength="61" lengthAdjust="spacingAndGlyphs" dominant-baseline="central" transform="rotate(-90 259.20 191.50)" >Tumor luminescence</text>
<text x="271.30" y="191.50" font-size="8.2" fill="#333" stroke="#333" stroke-width="0.1" text-anchor="middle" textLength="34" lengthAdjust="spacingAndGlyphs" dominant-baseline="central" transform="rotate(-90 271.30 191.50)" >(photons/s)</text>
<polyline points="323.71,217.93 342.86,216.51 369.67,217.07" fill="none" stroke="#8c88c0" stroke-width="0.55" stroke-linejoin="round"/>
<circle cx="323.71" cy="217.93" r="0.8" fill="#8c88c0" />
<circle cx="342.86" cy="216.51" r="0.8" fill="#8c88c0" />
<circle cx="369.67" cy="217.07" r="0.8" fill="#8c88c0" />
<polyline points="323.71,216.54 342.86,215.15 369.67,216.30" fill="none" stroke="#8c88c0" stroke-width="0.55" stroke-linejoin="round"/>
<circle cx="323.71" cy="216.54" r="0.8" fill="#8c88c0" />
<circle cx="342.86" cy="215.15" r="0.8" fill="#8c88c0" />
<circle cx="369.67" cy="216.30" r="0.8" fill="#8c88c0" />
<polyline points="323.71,216.79 342.86,213.46 369.67,213.82" fill="none" stroke="#8c88c0" stroke-width="0.55" stroke-linejoin="round"/>
<circle cx="323.71" cy="216.79" r="0.8" fill="#8c88c0" />
<circle cx="342.86" cy="213.46" r="0.8" fill="#8c88c0" />
<circle cx="369.67" cy="213.82" r="0.8" fill="#8c88c0" />
<polyline points="323.71,215.64 342.86,211.90 369.67,211.28" fill="none" stroke="#8c88c0" stroke-width="0.55" stroke-linejoin="round"/>
<circle cx="323.71" cy="215.64" r="0.8" fill="#8c88c0" />
<circle cx="342.86" cy="211.90" r="0.8" fill="#8c88c0" />
<circle cx="369.67" cy="211.28" r="0.8" fill="#8c88c0" />
<polyline points="323.71,213.84 342.86,212.09 369.67,208.88" fill="none" stroke="#8c88c0" stroke-width="0.55" stroke-linejoin="round"/>
<circle cx="323.71" cy="213.84" r="0.8" fill="#8c88c0" />
<circle cx="342.86" cy="212.09" r="0.8" fill="#8c88c0" />
<circle cx="369.67" cy="208.88" r="0.8" fill="#8c88c0" />
<polyline points="323.71,214.26 342.86,210.54 369.67,206.28" fill="none" stroke="#8c88c0" stroke-width="0.55" stroke-linejoin="round"/>
<circle cx="323.71" cy="214.26" r="0.8" fill="#8c88c0" />
<circle cx="342.86" cy="210.54" r="0.8" fill="#8c88c0" />
<circle cx="369.67" cy="206.28" r="0.8" fill="#8c88c0" />
<polyline points="323.71,212.85 342.86,209.12 369.67,205.14" fill="none" stroke="#8c88c0" stroke-width="0.55" stroke-linejoin="round"/>
<circle cx="323.71" cy="212.85" r="0.8" fill="#8c88c0" />
<circle cx="342.86" cy="209.12" r="0.8" fill="#8c88c0" />
<circle cx="369.67" cy="205.14" r="0.8" fill="#8c88c0" />
<polyline points="323.71,212.88 342.86,207.93 369.67,203.60" fill="none" stroke="#8c88c0" stroke-width="0.55" stroke-linejoin="round"/>
<circle cx="323.71" cy="212.88" r="0.8" fill="#8c88c0" />
<circle cx="342.86" cy="207.93" r="0.8" fill="#8c88c0" />
<circle cx="369.67" cy="203.60" r="0.8" fill="#8c88c0" />
<polyline points="323.71,211.71 342.86,208.66 369.67,200.84" fill="none" stroke="#8c88c0" stroke-width="0.55" stroke-linejoin="round"/>
<circle cx="323.71" cy="211.71" r="0.8" fill="#8c88c0" />
<circle cx="342.86" cy="208.66" r="0.8" fill="#8c88c0" />
<circle cx="369.67" cy="200.84" r="0.8" fill="#8c88c0" />
<polyline points="323.71,210.65 342.86,205.74 369.67,198.98" fill="none" stroke="#8c88c0" stroke-width="0.55" stroke-linejoin="round"/>
<circle cx="323.71" cy="210.65" r="0.8" fill="#8c88c0" />
<circle cx="342.86" cy="205.74" r="0.8" fill="#8c88c0" />
<circle cx="369.67" cy="198.98" r="0.8" fill="#8c88c0" />
<polyline points="323.71,214.53 342.86,209.51 369.67,207.52" fill="none" stroke="#1f3b6e" stroke-width="0.55" stroke-linejoin="round"/>
<circle cx="323.71" cy="214.53" r="0.8" fill="#1f3b6e" />
<circle cx="342.86" cy="209.51" r="0.8" fill="#1f3b6e" />
<circle cx="369.67" cy="207.52" r="0.8" fill="#1f3b6e" />
<polyline points="323.71,213.43 342.86,209.31 369.67,203.75" fill="none" stroke="#1f3b6e" stroke-width="0.55" stroke-linejoin="round"/>
<circle cx="323.71" cy="213.43" r="0.8" fill="#1f3b6e" />
<circle cx="342.86" cy="209.31" r="0.8" fill="#1f3b6e" />
<circle cx="369.67" cy="203.75" r="0.8" fill="#1f3b6e" />
<polyline points="323.71,212.34 342.86,208.77 369.67,204.59" fill="none" stroke="#1f3b6e" stroke-width="0.55" stroke-linejoin="round"/>
<circle cx="323.71" cy="212.34" r="0.8" fill="#1f3b6e" />
<circle cx="342.86" cy="208.77" r="0.8" fill="#1f3b6e" />
<circle cx="369.67" cy="204.59" r="0.8" fill="#1f3b6e" />
<polyline points="323.71,212.52 342.86,205.10 369.67,201.65" fill="none" stroke="#1f3b6e" stroke-width="0.55" stroke-linejoin="round"/>
<circle cx="323.71" cy="212.52" r="0.8" fill="#1f3b6e" />
<circle cx="342.86" cy="205.10" r="0.8" fill="#1f3b6e" />
<circle cx="369.67" cy="201.65" r="0.8" fill="#1f3b6e" />
<polyline points="323.71,210.86 342.86,205.38 369.67,199.49" fill="none" stroke="#1f3b6e" stroke-width="0.55" stroke-linejoin="round"/>
<circle cx="323.71" cy="210.86" r="0.8" fill="#1f3b6e" />
<circle cx="342.86" cy="205.38" r="0.8" fill="#1f3b6e" />
<circle cx="369.67" cy="199.49" r="0.8" fill="#1f3b6e" />
<polyline points="323.71,210.32 342.86,203.82 369.67,197.31" fill="none" stroke="#1f3b6e" stroke-width="0.55" stroke-linejoin="round"/>
<circle cx="323.71" cy="210.32" r="0.8" fill="#1f3b6e" />
<circle cx="342.86" cy="203.82" r="0.8" fill="#1f3b6e" />
<circle cx="369.67" cy="197.31" r="0.8" fill="#1f3b6e" />
<polyline points="323.71,209.02 342.86,200.96 369.67,195.07" fill="none" stroke="#1f3b6e" stroke-width="0.55" stroke-linejoin="round"/>
<circle cx="323.71" cy="209.02" r="0.8" fill="#1f3b6e" />
<circle cx="342.86" cy="200.96" r="0.8" fill="#1f3b6e" />
<circle cx="369.67" cy="195.07" r="0.8" fill="#1f3b6e" />
<polyline points="323.71,207.47 342.86,199.65 369.67,192.09" fill="none" stroke="#1f3b6e" stroke-width="0.55" stroke-linejoin="round"/>
<circle cx="323.71" cy="207.47" r="0.8" fill="#1f3b6e" />
<circle cx="342.86" cy="199.65" r="0.8" fill="#1f3b6e" />
<circle cx="369.67" cy="192.09" r="0.8" fill="#1f3b6e" />
<polyline points="323.71,206.96 342.86,200.00 369.67,190.63" fill="none" stroke="#1f3b6e" stroke-width="0.55" stroke-linejoin="round"/>
<circle cx="323.71" cy="206.96" r="0.8" fill="#1f3b6e" />
<circle cx="342.86" cy="200.00" r="0.8" fill="#1f3b6e" />
<circle cx="369.67" cy="190.63" r="0.8" fill="#1f3b6e" />
<polyline points="323.71,205.50 342.86,196.66 369.67,189.72" fill="none" stroke="#1f3b6e" stroke-width="0.55" stroke-linejoin="round"/>
<circle cx="323.71" cy="205.50" r="0.8" fill="#1f3b6e" />
<circle cx="342.86" cy="196.66" r="0.8" fill="#1f3b6e" />
<circle cx="369.67" cy="189.72" r="0.8" fill="#1f3b6e" />
<polyline points="323.71,207.65 342.86,198.20 369.67,188.53" fill="none" stroke="#4ab2e2" stroke-width="0.55" stroke-linejoin="round"/>
<circle cx="323.71" cy="207.65" r="0.8" fill="#4ab2e2" />
<circle cx="342.86" cy="198.20" r="0.8" fill="#4ab2e2" />
<circle cx="369.67" cy="188.53" r="0.8" fill="#4ab2e2" />
<polyline points="323.71,207.13 342.86,197.02 369.67,188.80" fill="none" stroke="#4ab2e2" stroke-width="0.55" stroke-linejoin="round"/>
<circle cx="323.71" cy="207.13" r="0.8" fill="#4ab2e2" />
<circle cx="342.86" cy="197.02" r="0.8" fill="#4ab2e2" />
<circle cx="369.67" cy="188.80" r="0.8" fill="#4ab2e2" />
<polyline points="323.71,205.88 342.86,194.76 369.67,187.71" fill="none" stroke="#4ab2e2" stroke-width="0.55" stroke-linejoin="round"/>
<circle cx="323.71" cy="205.88" r="0.8" fill="#4ab2e2" />
<circle cx="342.86" cy="194.76" r="0.8" fill="#4ab2e2" />
<circle cx="369.67" cy="187.71" r="0.8" fill="#4ab2e2" />
<polyline points="323.71,205.21 342.86,194.70 369.67,186.55" fill="none" stroke="#4ab2e2" stroke-width="0.55" stroke-linejoin="round"/>
<circle cx="323.71" cy="205.21" r="0.8" fill="#4ab2e2" />
<circle cx="342.86" cy="194.70" r="0.8" fill="#4ab2e2" />
<circle cx="369.67" cy="186.55" r="0.8" fill="#4ab2e2" />
<polyline points="323.71,205.32 342.86,193.03 369.67,184.25" fill="none" stroke="#4ab2e2" stroke-width="0.55" stroke-linejoin="round"/>
<circle cx="323.71" cy="205.32" r="0.8" fill="#4ab2e2" />
<circle cx="342.86" cy="193.03" r="0.8" fill="#4ab2e2" />
<circle cx="369.67" cy="184.25" r="0.8" fill="#4ab2e2" />
<polyline points="323.71,204.98 342.86,192.25 369.67,184.63" fill="none" stroke="#4ab2e2" stroke-width="0.55" stroke-linejoin="round"/>
<circle cx="323.71" cy="204.98" r="0.8" fill="#4ab2e2" />
<circle cx="342.86" cy="192.25" r="0.8" fill="#4ab2e2" />
<circle cx="369.67" cy="184.63" r="0.8" fill="#4ab2e2" />
<polyline points="323.71,203.06 342.86,191.68 369.67,182.14" fill="none" stroke="#4ab2e2" stroke-width="0.55" stroke-linejoin="round"/>
<circle cx="323.71" cy="203.06" r="0.8" fill="#4ab2e2" />
<circle cx="342.86" cy="191.68" r="0.8" fill="#4ab2e2" />
<circle cx="369.67" cy="182.14" r="0.8" fill="#4ab2e2" />
<polyline points="323.71,201.84 342.86,190.33 369.67,180.88" fill="none" stroke="#4ab2e2" stroke-width="0.55" stroke-linejoin="round"/>
<circle cx="323.71" cy="201.84" r="0.8" fill="#4ab2e2" />
<circle cx="342.86" cy="190.33" r="0.8" fill="#4ab2e2" />
<circle cx="369.67" cy="180.88" r="0.8" fill="#4ab2e2" />
<polyline points="323.71,202.23 342.86,190.02 369.67,180.52" fill="none" stroke="#4ab2e2" stroke-width="0.55" stroke-linejoin="round"/>
<circle cx="323.71" cy="202.23" r="0.8" fill="#4ab2e2" />
<circle cx="342.86" cy="190.02" r="0.8" fill="#4ab2e2" />
<circle cx="369.67" cy="180.52" r="0.8" fill="#4ab2e2" />
<polyline points="323.71,201.95 342.86,188.76 369.67,179.80" fill="none" stroke="#4ab2e2" stroke-width="0.55" stroke-linejoin="round"/>
<circle cx="323.71" cy="201.95" r="0.8" fill="#4ab2e2" />
<circle cx="342.86" cy="188.76" r="0.8" fill="#4ab2e2" />
<circle cx="369.67" cy="179.80" r="0.8" fill="#4ab2e2" />
<line x1="296.60" y1="165.10" x2="296.60" y2="219.20" stroke="#222" stroke-width="0.9" />
<line x1="293.60" y1="167.60" x2="296.60" y2="167.60" stroke="#222" stroke-width="0.8" />
<text x="290.60" y="168.10" font-size="5.9" fill="#333" stroke="#333" stroke-width="0.12" text-anchor="end" dominant-baseline="central">10<tspan font-size="3.7" dy="-2.3" fill="#666" stroke="#666" stroke-width="0.08">11</tspan></text>
<line x1="293.60" y1="176.20" x2="296.60" y2="176.20" stroke="#222" stroke-width="0.8" />
<text x="290.60" y="176.70" font-size="5.9" fill="#333" stroke="#333" stroke-width="0.12" text-anchor="end" dominant-baseline="central">10<tspan font-size="3.7" dy="-2.3" fill="#666" stroke="#666" stroke-width="0.08">10</tspan></text>
<line x1="293.60" y1="184.80" x2="296.60" y2="184.80" stroke="#222" stroke-width="0.8" />
<text x="290.60" y="185.30" font-size="5.9" fill="#333" stroke="#333" stroke-width="0.12" text-anchor="end" dominant-baseline="central">10<tspan font-size="3.7" dy="-2.3" fill="#666" stroke="#666" stroke-width="0.08">9</tspan></text>
<line x1="293.60" y1="193.40" x2="296.60" y2="193.40" stroke="#222" stroke-width="0.8" />
<text x="290.60" y="193.90" font-size="5.9" fill="#333" stroke="#333" stroke-width="0.12" text-anchor="end" dominant-baseline="central">10<tspan font-size="3.7" dy="-2.3" fill="#666" stroke="#666" stroke-width="0.08">8</tspan></text>
<line x1="293.60" y1="202.00" x2="296.60" y2="202.00" stroke="#222" stroke-width="0.8" />
<text x="290.60" y="202.50" font-size="5.9" fill="#333" stroke="#333" stroke-width="0.12" text-anchor="end" dominant-baseline="central">10<tspan font-size="3.7" dy="-2.3" fill="#666" stroke="#666" stroke-width="0.08">7</tspan></text>
<line x1="293.60" y1="210.60" x2="296.60" y2="210.60" stroke="#222" stroke-width="0.8" />
<text x="290.60" y="211.10" font-size="5.9" fill="#333" stroke="#333" stroke-width="0.12" text-anchor="end" dominant-baseline="central">10<tspan font-size="3.7" dy="-2.3" fill="#666" stroke="#666" stroke-width="0.08">6</tspan></text>
<line x1="293.60" y1="219.20" x2="296.60" y2="219.20" stroke="#222" stroke-width="0.8" />
<text x="290.60" y="219.70" font-size="5.9" fill="#333" stroke="#333" stroke-width="0.12" text-anchor="end" dominant-baseline="central">10<tspan font-size="3.7" dy="-2.3" fill="#666" stroke="#666" stroke-width="0.08">5</tspan></text>
<line x1="296.60" y1="219.20" x2="375.40" y2="219.20" stroke="#222" stroke-width="0.9" />
<line x1="296.90" y1="219.20" x2="296.90" y2="221.80" stroke="#222" stroke-width="0.8" />
<text x="296.90" y="228.60" font-size="6.3" fill="#333" stroke="#333" stroke-width="0.1" text-anchor="middle" dominant-baseline="central" >0</text>
<line x1="315.80" y1="219.20" x2="315.80" y2="221.80" stroke="#222" stroke-width="0.8" />
<text x="315.80" y="228.60" font-size="6.3" fill="#333" stroke="#333" stroke-width="0.1" text-anchor="middle" dominant-baseline="central" >5</text>
<line x1="335.00" y1="219.20" x2="335.00" y2="221.80" stroke="#222" stroke-width="0.8" />
<text x="335.00" y="228.60" font-size="6.3" fill="#333" stroke="#333" stroke-width="0.1" text-anchor="middle" dominant-baseline="central" >10</text>
<line x1="354.20" y1="219.20" x2="354.20" y2="221.80" stroke="#222" stroke-width="0.8" />
<text x="354.20" y="228.60" font-size="6.3" fill="#333" stroke="#333" stroke-width="0.1" text-anchor="middle" dominant-baseline="central" >15</text>
<line x1="373.50" y1="219.20" x2="373.50" y2="221.80" stroke="#222" stroke-width="0.8" />
<text x="373.50" y="228.60" font-size="6.3" fill="#333" stroke="#333" stroke-width="0.1" text-anchor="middle" dominant-baseline="central" >20</text>
<text x="300.20" y="171.20" font-size="6.5" fill="#333" stroke="#333" stroke-width="0.1" textLength="64.6" lengthAdjust="spacingAndGlyphs" dominant-baseline="central" >2E5 MOPC315.BM WT</text>
<text x="336.40" y="239.50" font-size="8.6" fill="#333" stroke="#333" stroke-width="0.1" text-anchor="middle" textLength="47.3" lengthAdjust="spacingAndGlyphs" dominant-baseline="central" >Days after tumor</text>
<line x1="256.00" y1="253.50" x2="263.50" y2="253.50" stroke="#1f3b6e" stroke-width="0.8" />
<circle cx="259.75" cy="253.50" r="1.2" fill="#1f3b6e" />
<text x="268.20" y="253.80" font-size="6.9" fill="#333" stroke="#333" stroke-width="0.1" textLength="47" lengthAdjust="spacingAndGlyphs" dominant-baseline="central" >APRIL-28ζ /IL-18</text>
<line x1="256.00" y1="263.50" x2="263.50" y2="263.50" stroke="#8c88c0" stroke-width="0.8" />
<circle cx="259.75" cy="263.50" r="1.2" fill="#8c88c0" />
<text x="268.20" y="263.80" font-size="6.9" fill="#333" stroke="#333" stroke-width="0.1" textLength="55.3" lengthAdjust="spacingAndGlyphs" dominant-baseline="central" >APRIL-28-1XX/IL-18</text>
<line x1="333.20" y1="253.40" x2="342.20" y2="253.40" stroke="#4ab2e2" stroke-width="0.8" />
<circle cx="337.70" cy="253.40" r="1.2" fill="#4ab2e2" />
<text x="345.40" y="253.70" font-size="6.9" fill="#333" stroke="#333" stroke-width="0.1" textLength="56.4" lengthAdjust="spacingAndGlyphs" dominant-baseline="central" >APRIL-CD3z-Δ/IL-18</text>
<line x1="333.20" y1="263.20" x2="342.20" y2="263.20" stroke="#d4d4d8" stroke-width="0.8" />
<circle cx="337.70" cy="263.20" r="1.2" fill="#d4d4d8" />
<text x="345.40" y="263.50" font-size="6.9" fill="#333" stroke="#333" stroke-width="0.1" textLength="30.3" lengthAdjust="spacingAndGlyphs" dominant-baseline="central" >tumor only</text>
<text x="462.90" y="150.40" font-size="7.6" fill="#333" stroke="#333" stroke-width="0.1" text-anchor="middle" textLength="28.2" lengthAdjust="spacingAndGlyphs" dominant-baseline="central" >survival</text>
<text x="396.60" y="193.50" font-size="8.2" fill="#333" stroke="#333" stroke-width="0.1" text-anchor="middle" textLength="46" lengthAdjust="spacingAndGlyphs" dominant-baseline="central" transform="rotate(-90 396.60 193.50)" >Percent survival</text>
<polyline points="421.20,172.40 434.26,172.40 434.26,172.40 435.34,172.40 435.34,181.62 436.98,181.62 436.98,190.84 438.61,190.84 438.61,200.06 440.24,200.06 440.24,209.28 442.96,209.28 442.96,218.50" fill="none" stroke="#c4c4c8" stroke-width="0.7" />
<polyline points="421.20,172.40 434.26,172.40 434.26,172.40 435.89,172.40 435.89,181.62 437.52,181.62 437.52,190.84 439.70,190.84 439.70,200.06 454.38,200.06 454.38,204.67 464.18,204.67 464.18,209.28 473.97,209.28 473.97,213.89 478.86,213.89 478.86,213.89" fill="none" stroke="#5ab4e2" stroke-width="0.7" />
<polyline points="421.20,172.40 442.42,172.40 442.42,172.40 445.68,172.40 445.68,177.01 448.40,177.01 448.40,181.62 450.58,181.62 450.58,186.23 456.56,186.23 456.56,195.45 460.37,195.45 460.37,200.06 473.42,200.06 473.42,209.28 478.86,209.28 478.86,209.28" fill="none" stroke="#1f3b6e" stroke-width="0.7" />
<polyline points="421.20,172.40 451.12,172.40 451.12,172.40 451.12,172.40 451.12,186.23 469.62,186.23 469.62,186.23 469.62,186.23 469.62,191.76 478.86,191.76 478.86,191.76" fill="none" stroke="#9c98c8" stroke-width="0.7" />
<circle cx="478.86" cy="209.48" r="1.2" fill="#1f3b6e" />
<circle cx="478.86" cy="191.76" r="1.1" fill="#9c98c8" />
<path d="M477.56,214.89 l1.3,-2.3 l1.3,2.3 z" fill="#5ab4e2"/>
<polyline points="481.00,191.70 489.60,191.70 489.60,214.70 481.00,214.70" fill="none" stroke="#9c98c8" stroke-width="0.7" />
<text x="488.60" y="202.60" font-size="5.6" fill="#222" stroke="#222" stroke-width="0.1" text-anchor="middle" dominant-baseline="central" >++</text>
<rect x="465.20" y="201.50" width="8.50" height="5.20" fill="white" stroke="#333" stroke-width="0.5" />
<text x="469.40" y="204.20" font-size="5" fill="#222" stroke="#222" stroke-width="0.1" text-anchor="middle" dominant-baseline="central" >ns</text>
<line x1="420.90" y1="168.80" x2="420.90" y2="218.80" stroke="#222" stroke-width="0.9" />
<line x1="417.90" y1="172.30" x2="420.90" y2="172.30" stroke="#222" stroke-width="0.8" />
<text x="415.10" y="172.60" font-size="6.3" fill="#333" stroke="#333" stroke-width="0.1" text-anchor="end" dominant-baseline="central" >100</text>
<line x1="417.90" y1="195.80" x2="420.90" y2="195.80" stroke="#222" stroke-width="0.8" />
<text x="415.10" y="196.10" font-size="6.3" fill="#333" stroke="#333" stroke-width="0.1" text-anchor="end" dominant-baseline="central" >50</text>
<line x1="417.90" y1="218.80" x2="420.90" y2="218.80" stroke="#222" stroke-width="0.8" />
<text x="415.10" y="219.10" font-size="6.3" fill="#333" stroke="#333" stroke-width="0.1" text-anchor="end" dominant-baseline="central" >0</text>
<line x1="420.90" y1="218.80" x2="504.00" y2="218.80" stroke="#222" stroke-width="0.9" />
<line x1="420.90" y1="218.80" x2="420.90" y2="221.40" stroke="#222" stroke-width="0.8" />
<text x="420.90" y="228.60" font-size="6.3" fill="#333" stroke="#333" stroke-width="0.1" text-anchor="middle" dominant-baseline="central" >0</text>
<line x1="448.20" y1="218.80" x2="448.20" y2="221.40" stroke="#222" stroke-width="0.8" />
<text x="448.20" y="228.60" font-size="6.3" fill="#333" stroke="#333" stroke-width="0.1" text-anchor="middle" dominant-baseline="central" >50</text>
<line x1="475.80" y1="218.80" x2="475.80" y2="221.40" stroke="#222" stroke-width="0.8" />
<text x="475.80" y="228.60" font-size="6.3" fill="#333" stroke="#333" stroke-width="0.1" text-anchor="middle" dominant-baseline="central" >100</text>
<line x1="502.60" y1="218.80" x2="502.60" y2="221.40" stroke="#222" stroke-width="0.8" />
<text x="502.60" y="228.60" font-size="6.3" fill="#333" stroke="#333" stroke-width="0.1" text-anchor="middle" dominant-baseline="central" >150</text>
<text x="463.20" y="239.80" font-size="8.6" fill="#333" stroke="#333" stroke-width="0.1" text-anchor="middle" textLength="48" lengthAdjust="spacingAndGlyphs" dominant-baseline="central" >Days after tumor</text>
<text x="458.00" y="177.70" font-size="6.2" fill="#333" stroke="#333" stroke-width="0.1" font-style="italic" textLength="47.5" lengthAdjust="spacingAndGlyphs" dominant-baseline="central" >n = 10 per group</text>
<text x="8.60" y="282.60" font-size="11.0" fill="#111" stroke="#111" stroke-width="0.1" font-weight="bold" dominant-baseline="central" >E</text>
<text x="87.30" y="283.40" font-size="7.6" fill="#333" stroke="#333" stroke-width="0.1" text-anchor="middle" textLength="36.6" lengthAdjust="spacingAndGlyphs" dominant-baseline="central" >tumor BLI</text>
<text x="11.40" y="322.20" font-size="8.2" fill="#333" stroke="#333" stroke-width="0.1" text-anchor="middle" textLength="59.7" lengthAdjust="spacingAndGlyphs" dominant-baseline="central" transform="rotate(-90 11.40 322.20)" >Tumor luminescence</text>
<text x="21.50" y="321.90" font-size="8.2" fill="#333" stroke="#333" stroke-width="0.1" text-anchor="middle" textLength="34.2" lengthAdjust="spacingAndGlyphs" dominant-baseline="central" transform="rotate(-90 21.50 321.90)" >(photons/s)</text>
<polyline points="53.45,335.78 60.29,323.60 67.14,315.77 73.98,309.68 78.87,306.20" fill="none" stroke="#c8c8c8" stroke-width="0.6" stroke-linejoin="round"/>
<circle cx="53.45" cy="335.78" r="0.8" fill="#c8c8c8" />
<circle cx="60.29" cy="323.60" r="0.8" fill="#c8c8c8" />
<circle cx="67.14" cy="315.77" r="0.8" fill="#c8c8c8" />
<circle cx="73.98" cy="309.68" r="0.8" fill="#c8c8c8" />
<circle cx="78.87" cy="306.20" r="0.8" fill="#c8c8c8" />
<polyline points="53.45,337.52 60.29,327.08 67.14,318.38 73.98,312.29 77.90,307.07" fill="none" stroke="#c8c8c8" stroke-width="0.6" stroke-linejoin="round"/>
<circle cx="53.45" cy="337.52" r="0.8" fill="#c8c8c8" />
<circle cx="60.29" cy="327.08" r="0.8" fill="#c8c8c8" />
<circle cx="67.14" cy="318.38" r="0.8" fill="#c8c8c8" />
<circle cx="73.98" cy="312.29" r="0.8" fill="#c8c8c8" />
<circle cx="77.90" cy="307.07" r="0.8" fill="#c8c8c8" />
<polyline points="53.45,334.04 60.29,324.47 67.14,313.16 73.98,307.94 80.83,305.33" fill="none" stroke="#c8c8c8" stroke-width="0.6" stroke-linejoin="round"/>
<circle cx="53.45" cy="334.04" r="0.8" fill="#c8c8c8" />
<circle cx="60.29" cy="324.47" r="0.8" fill="#c8c8c8" />
<circle cx="67.14" cy="313.16" r="0.8" fill="#c8c8c8" />
<circle cx="73.98" cy="307.94" r="0.8" fill="#c8c8c8" />
<circle cx="80.83" cy="305.33" r="0.8" fill="#c8c8c8" />
<polyline points="53.45,338.39 60.29,329.69 67.14,321.86 75.94,312.29" fill="none" stroke="#c8c8c8" stroke-width="0.6" stroke-linejoin="round"/>
<circle cx="53.45" cy="338.39" r="0.8" fill="#c8c8c8" />
<circle cx="60.29" cy="329.69" r="0.8" fill="#c8c8c8" />
<circle cx="67.14" cy="321.86" r="0.8" fill="#c8c8c8" />
<circle cx="75.94" cy="312.29" r="0.8" fill="#c8c8c8" />
<polyline points="53.45,342.74 60.29,335.78 67.14,341.00 73.98,344.48 80.83,322.73 87.68,321.86 94.52,318.38 101.37,310.55 108.21,307.50" fill="none" stroke="#4caf50" stroke-width="0.6" stroke-linejoin="round"/>
<circle cx="53.45" cy="342.74" r="0.85" fill="#4caf50" />
<circle cx="60.29" cy="335.78" r="0.85" fill="#4caf50" />
<circle cx="67.14" cy="341.00" r="0.85" fill="#4caf50" />
<circle cx="73.98" cy="344.48" r="0.85" fill="#4caf50" />
<circle cx="80.83" cy="322.73" r="0.85" fill="#4caf50" />
<circle cx="87.68" cy="321.86" r="0.85" fill="#4caf50" />
<circle cx="94.52" cy="318.38" r="0.85" fill="#4caf50" />
<circle cx="101.37" cy="310.55" r="0.85" fill="#4caf50" />
<circle cx="108.21" cy="307.50" r="0.85" fill="#4caf50" />
<polyline points="53.45,339.26 60.29,328.82 67.14,335.78 73.98,341.00 80.83,337.52 87.68,339.26 94.52,334.91 101.37,329.69 108.21,326.21" fill="none" stroke="#4caf50" stroke-width="0.6" stroke-linejoin="round"/>
<circle cx="53.45" cy="339.26" r="0.85" fill="#4caf50" />
<circle cx="60.29" cy="328.82" r="0.85" fill="#4caf50" />
<circle cx="67.14" cy="335.78" r="0.85" fill="#4caf50" />
<circle cx="73.98" cy="341.00" r="0.85" fill="#4caf50" />
<circle cx="80.83" cy="337.52" r="0.85" fill="#4caf50" />
<circle cx="87.68" cy="339.26" r="0.85" fill="#4caf50" />
<circle cx="94.52" cy="334.91" r="0.85" fill="#4caf50" />
<circle cx="101.37" cy="329.69" r="0.85" fill="#4caf50" />
<circle cx="108.21" cy="326.21" r="0.85" fill="#4caf50" />
<polyline points="53.45,341.00 60.29,344.48 67.14,342.74 73.98,338.39 80.83,328.82 87.68,334.04 94.52,341.00 101.37,341.87 108.21,341.00 115.06,338.39" fill="none" stroke="#4caf50" stroke-width="0.6" stroke-linejoin="round"/>
<circle cx="53.45" cy="341.00" r="0.85" fill="#4caf50" />
<circle cx="60.29" cy="344.48" r="0.85" fill="#4caf50" />
<circle cx="67.14" cy="342.74" r="0.85" fill="#4caf50" />
<circle cx="73.98" cy="338.39" r="0.85" fill="#4caf50" />
<circle cx="80.83" cy="328.82" r="0.85" fill="#4caf50" />
<circle cx="87.68" cy="334.04" r="0.85" fill="#4caf50" />
<circle cx="94.52" cy="341.00" r="0.85" fill="#4caf50" />
<circle cx="101.37" cy="341.87" r="0.85" fill="#4caf50" />
<circle cx="108.21" cy="341.00" r="0.85" fill="#4caf50" />
<circle cx="115.06" cy="338.39" r="0.85" fill="#4caf50" />
<polyline points="53.45,345.35 60.29,337.52 67.14,331.43 73.98,336.65 80.83,345.35 87.68,344.48 94.52,339.26 101.37,341.00 108.21,341.87 115.06,341.00" fill="none" stroke="#4caf50" stroke-width="0.6" stroke-linejoin="round"/>
<circle cx="53.45" cy="345.35" r="0.85" fill="#4caf50" />
<circle cx="60.29" cy="337.52" r="0.85" fill="#4caf50" />
<circle cx="67.14" cy="331.43" r="0.85" fill="#4caf50" />
<circle cx="73.98" cy="336.65" r="0.85" fill="#4caf50" />
<circle cx="80.83" cy="345.35" r="0.85" fill="#4caf50" />
<circle cx="87.68" cy="344.48" r="0.85" fill="#4caf50" />
<circle cx="94.52" cy="339.26" r="0.85" fill="#4caf50" />
<circle cx="101.37" cy="341.00" r="0.85" fill="#4caf50" />
<circle cx="108.21" cy="341.87" r="0.85" fill="#4caf50" />
<circle cx="115.06" cy="341.00" r="0.85" fill="#4caf50" />
<polyline points="53.45,336.65 60.29,333.17 67.14,327.95 73.98,334.04 80.83,343.61 87.68,344.48 94.52,342.74 101.37,341.87 108.21,343.61 115.06,342.74" fill="none" stroke="#4caf50" stroke-width="0.6" stroke-linejoin="round"/>
<circle cx="53.45" cy="336.65" r="0.85" fill="#4caf50" />
<circle cx="60.29" cy="333.17" r="0.85" fill="#4caf50" />
<circle cx="67.14" cy="327.95" r="0.85" fill="#4caf50" />
<circle cx="73.98" cy="334.04" r="0.85" fill="#4caf50" />
<circle cx="80.83" cy="343.61" r="0.85" fill="#4caf50" />
<circle cx="87.68" cy="344.48" r="0.85" fill="#4caf50" />
<circle cx="94.52" cy="342.74" r="0.85" fill="#4caf50" />
<circle cx="101.37" cy="341.87" r="0.85" fill="#4caf50" />
<circle cx="108.21" cy="343.61" r="0.85" fill="#4caf50" />
<circle cx="115.06" cy="342.74" r="0.85" fill="#4caf50" />
<polyline points="53.45,345.35 60.29,344.48 67.14,341.00 70.07,327.95 73.98,338.39 80.83,344.48 87.68,345.35 94.52,346.22 101.37,344.48 108.21,346.22 115.06,345.35" fill="none" stroke="#1d6b3a" stroke-width="0.7" stroke-linejoin="round"/>
<circle cx="53.45" cy="345.35" r="0.85" fill="#1d6b3a" />
<circle cx="60.29" cy="344.48" r="0.85" fill="#1d6b3a" />
<circle cx="67.14" cy="341.00" r="0.85" fill="#1d6b3a" />
<circle cx="70.07" cy="327.95" r="0.85" fill="#1d6b3a" />
<circle cx="73.98" cy="338.39" r="0.85" fill="#1d6b3a" />
<circle cx="80.83" cy="344.48" r="0.85" fill="#1d6b3a" />
<circle cx="87.68" cy="345.35" r="0.85" fill="#1d6b3a" />
<circle cx="94.52" cy="346.22" r="0.85" fill="#1d6b3a" />
<circle cx="101.37" cy="344.48" r="0.85" fill="#1d6b3a" />
<circle cx="108.21" cy="346.22" r="0.85" fill="#1d6b3a" />
<circle cx="115.06" cy="345.35" r="0.85" fill="#1d6b3a" />
<polyline points="53.45,340.13 60.29,333.17 67.14,338.39 73.98,345.35 80.83,345.35 87.68,344.48 94.52,344.48 101.37,347.09 108.21,346.22 115.06,346.22" fill="none" stroke="#1d6b3a" stroke-width="0.7" stroke-linejoin="round"/>
<circle cx="53.45" cy="340.13" r="0.85" fill="#1d6b3a" />
<circle cx="60.29" cy="333.17" r="0.85" fill="#1d6b3a" />
<circle cx="67.14" cy="338.39" r="0.85" fill="#1d6b3a" />
<circle cx="73.98" cy="345.35" r="0.85" fill="#1d6b3a" />
<circle cx="80.83" cy="345.35" r="0.85" fill="#1d6b3a" />
<circle cx="87.68" cy="344.48" r="0.85" fill="#1d6b3a" />
<circle cx="94.52" cy="344.48" r="0.85" fill="#1d6b3a" />
<circle cx="101.37" cy="347.09" r="0.85" fill="#1d6b3a" />
<circle cx="108.21" cy="346.22" r="0.85" fill="#1d6b3a" />
<circle cx="115.06" cy="346.22" r="0.85" fill="#1d6b3a" />
<polyline points="53.45,347.09 60.29,345.35 67.14,344.48 73.98,345.35 80.83,346.22 87.68,345.35 94.52,347.09 101.37,346.22 108.21,347.96 115.06,346.22" fill="none" stroke="#1d6b3a" stroke-width="0.7" stroke-linejoin="round"/>
<circle cx="53.45" cy="347.09" r="0.85" fill="#1d6b3a" />
<circle cx="60.29" cy="345.35" r="0.85" fill="#1d6b3a" />
<circle cx="67.14" cy="344.48" r="0.85" fill="#1d6b3a" />
<circle cx="73.98" cy="345.35" r="0.85" fill="#1d6b3a" />
<circle cx="80.83" cy="346.22" r="0.85" fill="#1d6b3a" />
<circle cx="87.68" cy="345.35" r="0.85" fill="#1d6b3a" />
<circle cx="94.52" cy="347.09" r="0.85" fill="#1d6b3a" />
<circle cx="101.37" cy="346.22" r="0.85" fill="#1d6b3a" />
<circle cx="108.21" cy="347.96" r="0.85" fill="#1d6b3a" />
<circle cx="115.06" cy="346.22" r="0.85" fill="#1d6b3a" />
<polyline points="53.45,343.61 60.29,346.22 67.14,342.74 73.98,343.61 80.83,345.35 87.68,344.48 94.52,344.48 101.37,345.35 108.21,344.48 115.06,345.35" fill="none" stroke="#1d6b3a" stroke-width="0.7" stroke-linejoin="round"/>
<circle cx="53.45" cy="343.61" r="0.85" fill="#1d6b3a" />
<circle cx="60.29" cy="346.22" r="0.85" fill="#1d6b3a" />
<circle cx="67.14" cy="342.74" r="0.85" fill="#1d6b3a" />
<circle cx="73.98" cy="343.61" r="0.85" fill="#1d6b3a" />
<circle cx="80.83" cy="345.35" r="0.85" fill="#1d6b3a" />
<circle cx="87.68" cy="344.48" r="0.85" fill="#1d6b3a" />
<circle cx="94.52" cy="344.48" r="0.85" fill="#1d6b3a" />
<circle cx="101.37" cy="345.35" r="0.85" fill="#1d6b3a" />
<circle cx="108.21" cy="344.48" r="0.85" fill="#1d6b3a" />
<circle cx="115.06" cy="345.35" r="0.85" fill="#1d6b3a" />
<polyline points="53.45,341.87 60.29,339.26 67.14,342.74 73.98,341.87 80.83,340.13 87.68,343.61 94.52,345.35 101.37,344.48 108.21,345.35 115.06,344.48" fill="none" stroke="#1d6b3a" stroke-width="0.7" stroke-linejoin="round"/>
<circle cx="53.45" cy="341.87" r="0.85" fill="#1d6b3a" />
<circle cx="60.29" cy="339.26" r="0.85" fill="#1d6b3a" />
<circle cx="67.14" cy="342.74" r="0.85" fill="#1d6b3a" />
<circle cx="73.98" cy="341.87" r="0.85" fill="#1d6b3a" />
<circle cx="80.83" cy="340.13" r="0.85" fill="#1d6b3a" />
<circle cx="87.68" cy="343.61" r="0.85" fill="#1d6b3a" />
<circle cx="94.52" cy="345.35" r="0.85" fill="#1d6b3a" />
<circle cx="101.37" cy="344.48" r="0.85" fill="#1d6b3a" />
<circle cx="108.21" cy="345.35" r="0.85" fill="#1d6b3a" />
<circle cx="115.06" cy="344.48" r="0.85" fill="#1d6b3a" />
<line x1="46.60" y1="295.00" x2="46.60" y2="349.70" stroke="#222" stroke-width="0.9" />
<line x1="43.60" y1="297.50" x2="46.60" y2="297.50" stroke="#222" stroke-width="0.8" />
<text x="40.60" y="298.00" font-size="5.9" fill="#333" stroke="#333" stroke-width="0.12" text-anchor="end" dominant-baseline="central">10<tspan font-size="3.7" dy="-2.3" fill="#666" stroke="#666" stroke-width="0.08">11</tspan></text>
<line x1="43.60" y1="306.20" x2="46.60" y2="306.20" stroke="#222" stroke-width="0.8" />
<text x="40.60" y="306.70" font-size="5.9" fill="#333" stroke="#333" stroke-width="0.12" text-anchor="end" dominant-baseline="central">10<tspan font-size="3.7" dy="-2.3" fill="#666" stroke="#666" stroke-width="0.08">10</tspan></text>
<line x1="43.60" y1="314.90" x2="46.60" y2="314.90" stroke="#222" stroke-width="0.8" />
<text x="40.60" y="315.40" font-size="5.9" fill="#333" stroke="#333" stroke-width="0.12" text-anchor="end" dominant-baseline="central">10<tspan font-size="3.7" dy="-2.3" fill="#666" stroke="#666" stroke-width="0.08">9</tspan></text>
<line x1="43.60" y1="323.60" x2="46.60" y2="323.60" stroke="#222" stroke-width="0.8" />
<text x="40.60" y="324.10" font-size="5.9" fill="#333" stroke="#333" stroke-width="0.12" text-anchor="end" dominant-baseline="central">10<tspan font-size="3.7" dy="-2.3" fill="#666" stroke="#666" stroke-width="0.08">8</tspan></text>
<line x1="43.60" y1="332.30" x2="46.60" y2="332.30" stroke="#222" stroke-width="0.8" />
<text x="40.60" y="332.80" font-size="5.9" fill="#333" stroke="#333" stroke-width="0.12" text-anchor="end" dominant-baseline="central">10<tspan font-size="3.7" dy="-2.3" fill="#666" stroke="#666" stroke-width="0.08">7</tspan></text>
<line x1="43.60" y1="341.00" x2="46.60" y2="341.00" stroke="#222" stroke-width="0.8" />
<text x="40.60" y="341.50" font-size="5.9" fill="#333" stroke="#333" stroke-width="0.12" text-anchor="end" dominant-baseline="central">10<tspan font-size="3.7" dy="-2.3" fill="#666" stroke="#666" stroke-width="0.08">6</tspan></text>
<line x1="43.60" y1="349.70" x2="46.60" y2="349.70" stroke="#222" stroke-width="0.8" />
<text x="40.60" y="350.20" font-size="5.9" fill="#333" stroke="#333" stroke-width="0.12" text-anchor="end" dominant-baseline="central">10<tspan font-size="3.7" dy="-2.3" fill="#666" stroke="#666" stroke-width="0.08">5</tspan></text>
<line x1="46.60" y1="349.70" x2="127.00" y2="349.70" stroke="#222" stroke-width="0.9" />
<line x1="46.60" y1="349.70" x2="46.60" y2="352.30" stroke="#222" stroke-width="0.8" />
<text x="46.60" y="358.70" font-size="6.3" fill="#333" stroke="#333" stroke-width="0.1" text-anchor="middle" dominant-baseline="central" >0</text>
<line x1="66.30" y1="349.70" x2="66.30" y2="352.30" stroke="#222" stroke-width="0.8" />
<text x="66.30" y="358.70" font-size="6.3" fill="#333" stroke="#333" stroke-width="0.1" text-anchor="middle" dominant-baseline="central" >20</text>
<line x1="85.80" y1="349.70" x2="85.80" y2="352.30" stroke="#222" stroke-width="0.8" />
<text x="85.80" y="358.70" font-size="6.3" fill="#333" stroke="#333" stroke-width="0.1" text-anchor="middle" dominant-baseline="central" >40</text>
<line x1="105.40" y1="349.70" x2="105.40" y2="352.30" stroke="#222" stroke-width="0.8" />
<text x="105.40" y="358.70" font-size="6.3" fill="#333" stroke="#333" stroke-width="0.1" text-anchor="middle" dominant-baseline="central" >60</text>
<line x1="124.80" y1="349.70" x2="124.80" y2="352.30" stroke="#222" stroke-width="0.8" />
<text x="124.80" y="358.70" font-size="6.3" fill="#333" stroke="#333" stroke-width="0.1" text-anchor="middle" dominant-baseline="central" >80</text>
<text x="50.20" y="297.60" font-size="6.5" fill="#333" stroke="#333" stroke-width="0.1" textLength="64.9" lengthAdjust="spacingAndGlyphs" dominant-baseline="central" >2E5 MOPC315.BM WT</text>
<text x="87.40" y="369.60" font-size="8.6" fill="#333" stroke="#333" stroke-width="0.1" text-anchor="middle" textLength="48" lengthAdjust="spacingAndGlyphs" dominant-baseline="central" >Days after tumor</text>
<line x1="124.80" y1="308.80" x2="133.50" y2="308.80" stroke="#4caf50" stroke-width="0.8" />
<circle cx="129.15" cy="308.80" r="1.2" fill="#4caf50" />
<text x="136.90" y="309.10" font-size="6.9" fill="#333" stroke="#333" stroke-width="0.1" textLength="47.5" lengthAdjust="spacingAndGlyphs" dominant-baseline="central" >APRIL-28BB-1XX</text>
<line x1="124.80" y1="319.00" x2="133.50" y2="319.00" stroke="#1d6b3a" stroke-width="0.8" />
<circle cx="129.15" cy="319.00" r="1.2" fill="#1d6b3a" />
<text x="136.90" y="319.30" font-size="6.9" fill="#333" stroke="#333" stroke-width="0.1" textLength="64" lengthAdjust="spacingAndGlyphs" dominant-baseline="central" >APRIL-28BB-1XX/IL-18</text>
<line x1="124.80" y1="329.20" x2="133.50" y2="329.20" stroke="#cccccc" stroke-width="0.8" />
<circle cx="129.15" cy="329.20" r="1.2" fill="#cccccc" />
<text x="136.90" y="329.50" font-size="6.9" fill="#333" stroke="#333" stroke-width="0.1" textLength="30" lengthAdjust="spacingAndGlyphs" dominant-baseline="central" >tumor only</text>
<text x="277.80" y="283.40" font-size="7.6" fill="#333" stroke="#333" stroke-width="0.1" text-anchor="middle" textLength="28" lengthAdjust="spacingAndGlyphs" dominant-baseline="central" >survival</text>
<text x="214.20" y="323.70" font-size="8.2" fill="#333" stroke="#333" stroke-width="0.1" text-anchor="middle" textLength="45.9" lengthAdjust="spacingAndGlyphs" dominant-baseline="central" transform="rotate(-90 214.20 323.70)" >Percent survival</text>
<polyline points="238.90,302.70 258.58,302.70 258.58,302.70 259.24,302.70 259.24,312.04 260.55,312.04 260.55,340.06 268.09,340.06 268.09,340.06 268.09,340.06 268.09,349.40" fill="none" stroke="#c4c4c8" stroke-width="0.7" />
<polyline points="238.90,302.70 280.23,302.70 280.23,302.70 280.23,302.70 280.23,312.04 284.16,312.04 284.16,312.04 284.16,312.04 284.16,330.72 304.50,330.72 304.50,330.72" fill="none" stroke="#5cb85c" stroke-width="0.8" />
<polyline points="238.90,302.70 304.50,302.70" fill="none" stroke="#2a7a44" stroke-width="0.8" />
<circle cx="304.50" cy="302.70" r="1.2" fill="#1d5a30" />
<circle cx="304.50" cy="330.72" r="1.2" fill="#3a8a4a" />
<rect x="295.00" y="303.20" width="0.90" height="1.40" fill="#333" />
<rect x="295.00" y="305.70" width="0.90" height="1.40" fill="#333" />
<rect x="295.00" y="308.20" width="0.90" height="1.40" fill="#333" />
<rect x="295.00" y="310.70" width="0.90" height="1.40" fill="#333" />
<rect x="295.00" y="313.20" width="0.90" height="1.40" fill="#333" />
<rect x="295.00" y="315.70" width="0.90" height="1.40" fill="#333" />
<rect x="295.00" y="318.20" width="0.90" height="1.40" fill="#333" />
<rect x="295.00" y="320.70" width="0.90" height="1.40" fill="#333" />
<rect x="295.00" y="323.20" width="0.90" height="1.40" fill="#333" />
<rect x="295.00" y="325.70" width="0.90" height="1.40" fill="#333" />
<rect x="295.00" y="328.20" width="0.90" height="1.40" fill="#333" />
<line x1="295.60" y1="315.60" x2="295.60" y2="318.00" stroke="#222" stroke-width="0.55" />
<line x1="294.56" y1="316.20" x2="296.64" y2="317.40" stroke="#222" stroke-width="0.55" />
<line x1="294.56" y1="317.40" x2="296.64" y2="316.20" stroke="#222" stroke-width="0.55" />
<text x="249.70" y="328.80" font-size="6.6" fill="#333" stroke="#333" stroke-width="0.1" text-anchor="middle" font-style="italic" dominant-baseline="central" >n = 5</text>
<text x="249.70" y="337.00" font-size="6.6" fill="#333" stroke="#333" stroke-width="0.1" text-anchor="middle" font-style="italic" dominant-baseline="central" >per</text>
<text x="249.70" y="344.70" font-size="6.6" fill="#333" stroke="#333" stroke-width="0.1" text-anchor="middle" font-style="italic" dominant-baseline="central" >group</text>
<line x1="238.90" y1="299.20" x2="238.90" y2="349.40" stroke="#222" stroke-width="0.9" />
<line x1="235.90" y1="302.70" x2="238.90" y2="302.70" stroke="#222" stroke-width="0.8" />
<text x="233.10" y="303.00" font-size="6.3" fill="#333" stroke="#333" stroke-width="0.1" text-anchor="end" dominant-baseline="central" >100</text>
<line x1="235.90" y1="325.70" x2="238.90" y2="325.70" stroke="#222" stroke-width="0.8" />
<text x="233.10" y="326.00" font-size="6.3" fill="#333" stroke="#333" stroke-width="0.1" text-anchor="end" dominant-baseline="central" >50</text>
<line x1="235.90" y1="349.40" x2="238.90" y2="349.40" stroke="#222" stroke-width="0.8" />
<text x="233.10" y="349.70" font-size="6.3" fill="#333" stroke="#333" stroke-width="0.1" text-anchor="end" dominant-baseline="central" >0</text>
<line x1="238.90" y1="349.40" x2="316.70" y2="349.40" stroke="#222" stroke-width="0.9" />
<line x1="238.90" y1="349.40" x2="238.90" y2="352.00" stroke="#222" stroke-width="0.8" />
<text x="238.90" y="358.90" font-size="6.3" fill="#333" stroke="#333" stroke-width="0.1" text-anchor="middle" dominant-baseline="central" >0</text>
<line x1="271.60" y1="349.40" x2="271.60" y2="352.00" stroke="#222" stroke-width="0.8" />
<text x="271.60" y="358.90" font-size="6.3" fill="#333" stroke="#333" stroke-width="0.1" text-anchor="middle" dominant-baseline="central" >50</text>
<line x1="304.50" y1="349.40" x2="304.50" y2="352.00" stroke="#222" stroke-width="0.8" />
<text x="304.50" y="358.90" font-size="6.3" fill="#333" stroke="#333" stroke-width="0.1" text-anchor="middle" dominant-baseline="central" >100</text>
<text x="278.30" y="370.40" font-size="8.6" fill="#333" stroke="#333" stroke-width="0.1" text-anchor="middle" textLength="48" lengthAdjust="spacingAndGlyphs" dominant-baseline="central" >Days after tumor</text>
<text x="326.60" y="283.40" font-size="11.0" fill="#111" stroke="#111" stroke-width="0.1" font-weight="bold" dominant-baseline="central" >F</text>
<text x="383.50" y="307.10" font-size="8.0" fill="#333" stroke="#333" stroke-width="0.1" textLength="71" lengthAdjust="spacingAndGlyphs" dominant-baseline="central" >antigen-low model</text>
<g stroke="#6a6a6a" stroke-width="0.55" stroke-linejoin="round" stroke-linecap="round"><path d="M376,334.6 C381,336 384,339 383.2,343 C382.3,346.5 375,347.2 365.4,346.9" fill="none"/><path d="M340.2,334.4 C341.5,331.5 343.5,328.5 346,326.5 C348,324 351,322.8 355,322.3 C360,321.3 366,321.2 370.5,323.3 C375,325.5 377,329 376.6,333 C376.2,336.5 372.5,338.2 367,338.6 L358,339.3 C353,339.6 348,339 344.5,337 C342.5,336.2 340.8,335.5 340.2,334.4 Z" fill="#fcf4f4"/><ellipse cx="347.6" cy="324.9" rx="2.1" ry="2.6" transform="rotate(-25 347.6 324.9)" fill="#fcf4f4"/><ellipse cx="353.6" cy="325.3" rx="2.7" ry="3.1" fill="#fcf4f4"/><path d="M340.5,334.2 L332,332.3 M340.5,334.5 L332,334.7 M340.8,334.8 L333,337" fill="none" stroke-width="0.4" stroke="#888"/></g>
<ellipse cx="353.8" cy="325.6" rx="1.5" ry="2" fill="#e8c8cc"/>
<circle cx="347.20" cy="330.40" r="0.95" fill="#1a1a1a" />
<circle cx="340.60" cy="334.50" r="0.6" fill="#d8a0a8" />
<ellipse cx="351.6" cy="340.1" rx="1.5" ry="0.8" fill="#444"/><ellipse cx="362.6" cy="339.7" rx="1.7" ry="0.8" fill="#444"/>
<line x1="335.90" y1="348.40" x2="503.00" y2="348.40" stroke="#222" stroke-width="0.85" />
<path d="M506.4,348.4 l-4.4,-1.9 l0,3.8 z" fill="#222"/>
<text x="337.60" y="354.85" font-size="6.5" fill="#333" stroke="#333" stroke-width="0.1" textLength="43.3" lengthAdjust="spacingAndGlyphs" dominant-baseline="central" >450 cGy SL-TBI</text>
<text x="337.60" y="361.30" font-size="6.5" fill="#333" stroke="#333" stroke-width="0.1" textLength="47.9" lengthAdjust="spacingAndGlyphs" dominant-baseline="central" >lymphodepletion</text>
<text x="424.25" y="324.6" font-size="7" fill="#333" stroke="#333" stroke-width="0.1" text-anchor="middle" dominant-baseline="central" textLength="61.5" lengthAdjust="spacingAndGlyphs">4E5 MOPC315.BM<tspan font-size="4.3" dy="-2.2">low</tspan><tspan dy="2.2">;</tspan></text>
<text x="388" y="331.4" font-size="7" fill="#333" stroke="#333" stroke-width="0.1" dominant-baseline="central" textLength="69.3" lengthAdjust="spacingAndGlyphs">TACI<tspan font-size="4.3" dy="-2.2">KO</tspan><tspan fill="#c8184a" stroke="#c8184a" dy="2.2">BCMA</tspan><tspan fill="#c8184a" stroke="#c8184a" font-size="4.3" dy="-2.2">low</tspan><tspan fill="#c8184a" stroke="#c8184a" dy="2.2">BAFF-R</tspan><tspan fill="#c8184a" stroke="#c8184a" font-size="4.3" dy="-2.2">low</tspan></text>
<line x1="424.20" y1="338.20" x2="424.20" y2="345.60" stroke="#222" stroke-width="0.6" />
<path d="M424.20,348.2 l-1.2,-2.9 l2.4,0 z" fill="#222"/>
<line x1="486.00" y1="338.20" x2="486.00" y2="345.60" stroke="#222" stroke-width="0.6" />
<path d="M486.00,348.2 l-1.2,-2.9 l2.4,0 z" fill="#222"/>
<text x="424.25" y="354.40" font-size="7.2" fill="#333" stroke="#333" stroke-width="0.1" text-anchor="middle" textLength="15.5" lengthAdjust="spacingAndGlyphs" dominant-baseline="central" >Day 0</text>
<text x="486.25" y="324.40" font-size="7.0" fill="#333" stroke="#333" stroke-width="0.1" text-anchor="middle" textLength="25.1" lengthAdjust="spacingAndGlyphs" dominant-baseline="central" >2E6 CAR</text>
<text x="485.15" y="331.30" font-size="7.0" fill="#333" stroke="#333" stroke-width="0.1" text-anchor="middle" textLength="17.3" lengthAdjust="spacingAndGlyphs" dominant-baseline="central" >T cells</text>
<text x="485.90" y="354.10" font-size="7.2" fill="#333" stroke="#333" stroke-width="0.1" text-anchor="middle" textLength="15.8" lengthAdjust="spacingAndGlyphs" dominant-baseline="central" >Day 3</text>
<text x="8.60" y="390.40" font-size="11.0" fill="#111" stroke="#111" stroke-width="0.1" font-weight="bold" dominant-baseline="central" >G</text>
<text x="57.70" y="391.00" font-size="8.9" fill="#333" stroke="#333" stroke-width="0.1" textLength="134" lengthAdjust="spacingAndGlyphs" dominant-baseline="central" >APRIL and BCMA CARs + IL-18</text>
<text x="86.90" y="407.20" font-size="7.6" fill="#333" stroke="#333" stroke-width="0.1" text-anchor="middle" textLength="36.3" lengthAdjust="spacingAndGlyphs" dominant-baseline="central" >tumor BLI</text>
<text x="11.40" y="446.70" font-size="8.2" fill="#333" stroke="#333" stroke-width="0.1" text-anchor="middle" textLength="60.6" lengthAdjust="spacingAndGlyphs" dominant-baseline="central" transform="rotate(-90 11.40 446.70)" >Tumor luminescence</text>
<text x="21.00" y="446.40" font-size="8.2" fill="#333" stroke="#333" stroke-width="0.1" text-anchor="middle" textLength="33.2" lengthAdjust="spacingAndGlyphs" dominant-baseline="central" transform="rotate(-90 21.00 446.40)" >(photons/s)</text>
<polyline points="53.36,464.90 60.12,451.14 66.89,442.54 73.65,435.66 80.41,431.36" fill="none" stroke="#c6c6ca" stroke-width="0.6" stroke-linejoin="round"/>
<circle cx="53.36" cy="464.90" r="0.8" fill="#c6c6ca" />
<circle cx="60.12" cy="451.14" r="0.8" fill="#c6c6ca" />
<circle cx="66.89" cy="442.54" r="0.8" fill="#c6c6ca" />
<circle cx="73.65" cy="435.66" r="0.8" fill="#c6c6ca" />
<circle cx="80.41" cy="431.36" r="0.8" fill="#c6c6ca" />
<polyline points="53.36,462.32 60.12,448.56 66.89,439.10 73.65,433.94 80.41,428.78" fill="none" stroke="#c6c6ca" stroke-width="0.6" stroke-linejoin="round"/>
<circle cx="53.36" cy="462.32" r="0.8" fill="#c6c6ca" />
<circle cx="60.12" cy="448.56" r="0.8" fill="#c6c6ca" />
<circle cx="66.89" cy="439.10" r="0.8" fill="#c6c6ca" />
<circle cx="73.65" cy="433.94" r="0.8" fill="#c6c6ca" />
<circle cx="80.41" cy="428.78" r="0.8" fill="#c6c6ca" />
<polyline points="53.36,465.76 60.12,454.58 66.89,445.98 73.65,439.10 80.41,433.94 87.17,430.50" fill="none" stroke="#c6c6ca" stroke-width="0.6" stroke-linejoin="round"/>
<circle cx="53.36" cy="465.76" r="0.8" fill="#c6c6ca" />
<circle cx="60.12" cy="454.58" r="0.8" fill="#c6c6ca" />
<circle cx="66.89" cy="445.98" r="0.8" fill="#c6c6ca" />
<circle cx="73.65" cy="439.10" r="0.8" fill="#c6c6ca" />
<circle cx="80.41" cy="433.94" r="0.8" fill="#c6c6ca" />
<circle cx="87.17" cy="430.50" r="0.8" fill="#c6c6ca" />
<polyline points="53.36,460.60 60.12,447.70 66.89,437.38 73.65,432.22 80.41,427.92" fill="none" stroke="#c6c6ca" stroke-width="0.6" stroke-linejoin="round"/>
<circle cx="53.36" cy="460.60" r="0.8" fill="#c6c6ca" />
<circle cx="60.12" cy="447.70" r="0.8" fill="#c6c6ca" />
<circle cx="66.89" cy="437.38" r="0.8" fill="#c6c6ca" />
<circle cx="73.65" cy="432.22" r="0.8" fill="#c6c6ca" />
<circle cx="80.41" cy="427.92" r="0.8" fill="#c6c6ca" />
<polyline points="53.36,467.48 60.12,458.02 66.89,449.42 73.65,442.54 80.41,436.52 87.17,429.64" fill="none" stroke="#c6c6ca" stroke-width="0.6" stroke-linejoin="round"/>
<circle cx="53.36" cy="467.48" r="0.8" fill="#c6c6ca" />
<circle cx="60.12" cy="458.02" r="0.8" fill="#c6c6ca" />
<circle cx="66.89" cy="449.42" r="0.8" fill="#c6c6ca" />
<circle cx="73.65" cy="442.54" r="0.8" fill="#c6c6ca" />
<circle cx="80.41" cy="436.52" r="0.8" fill="#c6c6ca" />
<circle cx="87.17" cy="429.64" r="0.8" fill="#c6c6ca" />
<polyline points="53.36,464.04 60.12,456.30 66.89,447.70 73.65,440.82 80.41,434.80" fill="none" stroke="#c6c6ca" stroke-width="0.6" stroke-linejoin="round"/>
<circle cx="53.36" cy="464.04" r="0.8" fill="#c6c6ca" />
<circle cx="60.12" cy="456.30" r="0.8" fill="#c6c6ca" />
<circle cx="66.89" cy="447.70" r="0.8" fill="#c6c6ca" />
<circle cx="73.65" cy="440.82" r="0.8" fill="#c6c6ca" />
<circle cx="80.41" cy="434.80" r="0.8" fill="#c6c6ca" />
<polyline points="53.36,470.06 60.12,468.34 66.89,465.76 73.65,463.18 80.41,459.74 87.17,440.82 93.93,459.74 100.70,452.00 107.46,449.42" fill="none" stroke="#8f78c4" stroke-width="0.6" stroke-linejoin="round"/>
<circle cx="53.36" cy="470.06" r="0.85" fill="#8f78c4" />
<circle cx="60.12" cy="468.34" r="0.85" fill="#8f78c4" />
<circle cx="66.89" cy="465.76" r="0.85" fill="#8f78c4" />
<circle cx="73.65" cy="463.18" r="0.85" fill="#8f78c4" />
<circle cx="80.41" cy="459.74" r="0.85" fill="#8f78c4" />
<circle cx="87.17" cy="440.82" r="0.85" fill="#8f78c4" />
<circle cx="93.93" cy="459.74" r="0.85" fill="#8f78c4" />
<circle cx="100.70" cy="452.00" r="0.85" fill="#8f78c4" />
<circle cx="107.46" cy="449.42" r="0.85" fill="#8f78c4" />
<polyline points="53.36,468.34 60.12,470.06 66.89,467.48 73.65,469.20 80.41,464.90 87.17,462.32 93.93,459.74 100.70,454.58 107.46,453.72" fill="none" stroke="#8f78c4" stroke-width="0.6" stroke-linejoin="round"/>
<circle cx="53.36" cy="468.34" r="0.85" fill="#8f78c4" />
<circle cx="60.12" cy="470.06" r="0.85" fill="#8f78c4" />
<circle cx="66.89" cy="467.48" r="0.85" fill="#8f78c4" />
<circle cx="73.65" cy="469.20" r="0.85" fill="#8f78c4" />
<circle cx="80.41" cy="464.90" r="0.85" fill="#8f78c4" />
<circle cx="87.17" cy="462.32" r="0.85" fill="#8f78c4" />
<circle cx="93.93" cy="459.74" r="0.85" fill="#8f78c4" />
<circle cx="100.70" cy="454.58" r="0.85" fill="#8f78c4" />
<circle cx="107.46" cy="453.72" r="0.85" fill="#8f78c4" />
<polyline points="53.36,470.92 60.12,469.20 66.89,468.34 73.65,466.62 80.41,470.06 87.17,464.90 93.93,460.60" fill="none" stroke="#8f78c4" stroke-width="0.6" stroke-linejoin="round"/>
<circle cx="53.36" cy="470.92" r="0.85" fill="#8f78c4" />
<circle cx="60.12" cy="469.20" r="0.85" fill="#8f78c4" />
<circle cx="66.89" cy="468.34" r="0.85" fill="#8f78c4" />
<circle cx="73.65" cy="466.62" r="0.85" fill="#8f78c4" />
<circle cx="80.41" cy="470.06" r="0.85" fill="#8f78c4" />
<circle cx="87.17" cy="464.90" r="0.85" fill="#8f78c4" />
<circle cx="93.93" cy="460.60" r="0.85" fill="#8f78c4" />
<polyline points="53.36,467.48 60.12,459.74 66.89,465.76 73.65,459.74 80.41,463.18 87.17,451.14 93.93,461.46" fill="none" stroke="#c4305c" stroke-width="0.6" stroke-linejoin="round"/>
<circle cx="53.36" cy="467.48" r="0.85" fill="#c4305c" />
<circle cx="60.12" cy="459.74" r="0.85" fill="#c4305c" />
<circle cx="66.89" cy="465.76" r="0.85" fill="#c4305c" />
<circle cx="73.65" cy="459.74" r="0.85" fill="#c4305c" />
<circle cx="80.41" cy="463.18" r="0.85" fill="#c4305c" />
<circle cx="87.17" cy="451.14" r="0.85" fill="#c4305c" />
<circle cx="93.93" cy="461.46" r="0.85" fill="#c4305c" />
<polyline points="53.36,469.20 60.12,468.34 66.89,459.74 73.65,454.58 80.41,458.02 87.17,453.72 93.93,460.60 100.70,460.60 107.46,455.44" fill="none" stroke="#c4305c" stroke-width="0.6" stroke-linejoin="round"/>
<circle cx="53.36" cy="469.20" r="0.85" fill="#c4305c" />
<circle cx="60.12" cy="468.34" r="0.85" fill="#c4305c" />
<circle cx="66.89" cy="459.74" r="0.85" fill="#c4305c" />
<circle cx="73.65" cy="454.58" r="0.85" fill="#c4305c" />
<circle cx="80.41" cy="458.02" r="0.85" fill="#c4305c" />
<circle cx="87.17" cy="453.72" r="0.85" fill="#c4305c" />
<circle cx="93.93" cy="460.60" r="0.85" fill="#c4305c" />
<circle cx="100.70" cy="460.60" r="0.85" fill="#c4305c" />
<circle cx="107.46" cy="455.44" r="0.85" fill="#c4305c" />
<polyline points="53.36,470.06 60.12,466.62 66.89,462.32 73.65,464.90 80.41,456.30 87.17,450.28 93.93,461.46" fill="none" stroke="#c4305c" stroke-width="0.6" stroke-linejoin="round"/>
<circle cx="53.36" cy="470.06" r="0.85" fill="#c4305c" />
<circle cx="60.12" cy="466.62" r="0.85" fill="#c4305c" />
<circle cx="66.89" cy="462.32" r="0.85" fill="#c4305c" />
<circle cx="73.65" cy="464.90" r="0.85" fill="#c4305c" />
<circle cx="80.41" cy="456.30" r="0.85" fill="#c4305c" />
<circle cx="87.17" cy="450.28" r="0.85" fill="#c4305c" />
<circle cx="93.93" cy="461.46" r="0.85" fill="#c4305c" />
<polyline points="53.36,455.44 60.12,447.27 66.89,437.38" fill="none" stroke="#1f5f5c" stroke-width="0.65" stroke-linejoin="round"/>
<circle cx="53.36" cy="455.44" r="0.9" fill="#1f5f5c" />
<circle cx="60.12" cy="447.27" r="0.9" fill="#1f5f5c" />
<circle cx="66.89" cy="437.38" r="0.9" fill="#1f5f5c" />
<polyline points="53.36,470.06 60.12,470.92 66.89,468.34 73.65,461.46 80.41,469.20 87.17,456.30 93.93,461.46 100.70,470.92 107.46,470.06" fill="none" stroke="#1f5f5c" stroke-width="0.65" stroke-linejoin="round"/>
<circle cx="53.36" cy="470.06" r="0.9" fill="#1f5f5c" />
<circle cx="60.12" cy="470.92" r="0.9" fill="#1f5f5c" />
<circle cx="66.89" cy="468.34" r="0.9" fill="#1f5f5c" />
<circle cx="73.65" cy="461.46" r="0.9" fill="#1f5f5c" />
<circle cx="80.41" cy="469.20" r="0.9" fill="#1f5f5c" />
<circle cx="87.17" cy="456.30" r="0.9" fill="#1f5f5c" />
<circle cx="93.93" cy="461.46" r="0.9" fill="#1f5f5c" />
<circle cx="100.70" cy="470.92" r="0.9" fill="#1f5f5c" />
<circle cx="107.46" cy="470.06" r="0.9" fill="#1f5f5c" />
<polyline points="53.36,470.92 60.12,469.20 66.89,470.06 73.65,470.92 80.41,471.78 87.17,470.92 93.93,463.18 100.70,470.06 107.46,469.20" fill="none" stroke="#1f5f5c" stroke-width="0.65" stroke-linejoin="round"/>
<circle cx="53.36" cy="470.92" r="0.9" fill="#1f5f5c" />
<circle cx="60.12" cy="469.20" r="0.9" fill="#1f5f5c" />
<circle cx="66.89" cy="470.06" r="0.9" fill="#1f5f5c" />
<circle cx="73.65" cy="470.92" r="0.9" fill="#1f5f5c" />
<circle cx="80.41" cy="471.78" r="0.9" fill="#1f5f5c" />
<circle cx="87.17" cy="470.92" r="0.9" fill="#1f5f5c" />
<circle cx="93.93" cy="463.18" r="0.9" fill="#1f5f5c" />
<circle cx="100.70" cy="470.06" r="0.9" fill="#1f5f5c" />
<circle cx="107.46" cy="469.20" r="0.9" fill="#1f5f5c" />
<polyline points="53.36,469.20 60.12,471.78 66.89,464.04 73.65,468.34 80.41,459.74 87.17,452.86" fill="none" stroke="#1f5f5c" stroke-width="0.65" stroke-linejoin="round"/>
<circle cx="53.36" cy="469.20" r="0.9" fill="#1f5f5c" />
<circle cx="60.12" cy="471.78" r="0.9" fill="#1f5f5c" />
<circle cx="66.89" cy="464.04" r="0.9" fill="#1f5f5c" />
<circle cx="73.65" cy="468.34" r="0.9" fill="#1f5f5c" />
<circle cx="80.41" cy="459.74" r="0.9" fill="#1f5f5c" />
<circle cx="87.17" cy="452.86" r="0.9" fill="#1f5f5c" />
<polyline points="53.36,471.78 60.12,470.92 66.89,470.92 73.65,470.06 80.41,470.92 87.17,471.78" fill="none" stroke="#1f5f5c" stroke-width="0.65" stroke-linejoin="round"/>
<circle cx="53.36" cy="471.78" r="0.9" fill="#1f5f5c" />
<circle cx="60.12" cy="470.92" r="0.9" fill="#1f5f5c" />
<circle cx="66.89" cy="470.92" r="0.9" fill="#1f5f5c" />
<circle cx="73.65" cy="470.06" r="0.9" fill="#1f5f5c" />
<circle cx="80.41" cy="470.92" r="0.9" fill="#1f5f5c" />
<circle cx="87.17" cy="471.78" r="0.9" fill="#1f5f5c" />
<polyline points="53.36,470.06 60.12,468.34 66.89,470.06 73.65,467.48 80.41,470.06 87.17,463.18 93.93,464.90 100.70,470.92 107.46,470.06" fill="none" stroke="#1f5f5c" stroke-width="0.65" stroke-linejoin="round"/>
<circle cx="53.36" cy="470.06" r="0.9" fill="#1f5f5c" />
<circle cx="60.12" cy="468.34" r="0.9" fill="#1f5f5c" />
<circle cx="66.89" cy="470.06" r="0.9" fill="#1f5f5c" />
<circle cx="73.65" cy="467.48" r="0.9" fill="#1f5f5c" />
<circle cx="80.41" cy="470.06" r="0.9" fill="#1f5f5c" />
<circle cx="87.17" cy="463.18" r="0.9" fill="#1f5f5c" />
<circle cx="93.93" cy="464.90" r="0.9" fill="#1f5f5c" />
<circle cx="100.70" cy="470.92" r="0.9" fill="#1f5f5c" />
<circle cx="107.46" cy="470.06" r="0.9" fill="#1f5f5c" />
<line x1="46.60" y1="419.40" x2="46.60" y2="473.50" stroke="#222" stroke-width="0.9" />
<line x1="43.60" y1="421.90" x2="46.60" y2="421.90" stroke="#222" stroke-width="0.8" />
<text x="40.60" y="422.40" font-size="5.9" fill="#333" stroke="#333" stroke-width="0.12" text-anchor="end" dominant-baseline="central">10<tspan font-size="3.7" dy="-2.3" fill="#666" stroke="#666" stroke-width="0.08">11</tspan></text>
<line x1="43.60" y1="430.50" x2="46.60" y2="430.50" stroke="#222" stroke-width="0.8" />
<text x="40.60" y="431.00" font-size="5.9" fill="#333" stroke="#333" stroke-width="0.12" text-anchor="end" dominant-baseline="central">10<tspan font-size="3.7" dy="-2.3" fill="#666" stroke="#666" stroke-width="0.08">10</tspan></text>
<line x1="43.60" y1="439.10" x2="46.60" y2="439.10" stroke="#222" stroke-width="0.8" />
<text x="40.60" y="439.60" font-size="5.9" fill="#333" stroke="#333" stroke-width="0.12" text-anchor="end" dominant-baseline="central">10<tspan font-size="3.7" dy="-2.3" fill="#666" stroke="#666" stroke-width="0.08">9</tspan></text>
<line x1="43.60" y1="447.70" x2="46.60" y2="447.70" stroke="#222" stroke-width="0.8" />
<text x="40.60" y="448.20" font-size="5.9" fill="#333" stroke="#333" stroke-width="0.12" text-anchor="end" dominant-baseline="central">10<tspan font-size="3.7" dy="-2.3" fill="#666" stroke="#666" stroke-width="0.08">8</tspan></text>
<line x1="43.60" y1="456.30" x2="46.60" y2="456.30" stroke="#222" stroke-width="0.8" />
<text x="40.60" y="456.80" font-size="5.9" fill="#333" stroke="#333" stroke-width="0.12" text-anchor="end" dominant-baseline="central">10<tspan font-size="3.7" dy="-2.3" fill="#666" stroke="#666" stroke-width="0.08">7</tspan></text>
<line x1="43.60" y1="464.90" x2="46.60" y2="464.90" stroke="#222" stroke-width="0.8" />
<text x="40.60" y="465.40" font-size="5.9" fill="#333" stroke="#333" stroke-width="0.12" text-anchor="end" dominant-baseline="central">10<tspan font-size="3.7" dy="-2.3" fill="#666" stroke="#666" stroke-width="0.08">6</tspan></text>
<line x1="43.60" y1="473.50" x2="46.60" y2="473.50" stroke="#222" stroke-width="0.8" />
<text x="40.60" y="474.00" font-size="5.9" fill="#333" stroke="#333" stroke-width="0.12" text-anchor="end" dominant-baseline="central">10<tspan font-size="3.7" dy="-2.3" fill="#666" stroke="#666" stroke-width="0.08">5</tspan></text>
<line x1="46.60" y1="474.00" x2="127.00" y2="474.00" stroke="#222" stroke-width="0.9" />
<line x1="46.60" y1="474.00" x2="46.60" y2="476.60" stroke="#222" stroke-width="0.8" />
<text x="46.60" y="482.80" font-size="6.3" fill="#333" stroke="#333" stroke-width="0.1" text-anchor="middle" dominant-baseline="central" >0</text>
<line x1="66.30" y1="474.00" x2="66.30" y2="476.60" stroke="#222" stroke-width="0.8" />
<text x="66.30" y="482.80" font-size="6.3" fill="#333" stroke="#333" stroke-width="0.1" text-anchor="middle" dominant-baseline="central" >20</text>
<line x1="85.90" y1="474.00" x2="85.90" y2="476.60" stroke="#222" stroke-width="0.8" />
<text x="85.90" y="482.80" font-size="6.3" fill="#333" stroke="#333" stroke-width="0.1" text-anchor="middle" dominant-baseline="central" >40</text>
<line x1="104.90" y1="474.00" x2="104.90" y2="476.60" stroke="#222" stroke-width="0.8" />
<text x="104.90" y="482.80" font-size="6.3" fill="#333" stroke="#333" stroke-width="0.1" text-anchor="middle" dominant-baseline="central" >60</text>
<line x1="123.90" y1="474.00" x2="123.90" y2="476.60" stroke="#222" stroke-width="0.8" />
<text x="123.90" y="482.80" font-size="6.3" fill="#333" stroke="#333" stroke-width="0.1" text-anchor="middle" dominant-baseline="central" >80</text>
<text x="86.90" y="493.60" font-size="8.6" fill="#333" stroke="#333" stroke-width="0.1" text-anchor="middle" textLength="48" lengthAdjust="spacingAndGlyphs" dominant-baseline="central" >Days after tumor</text>
<line x1="38.50" y1="506.50" x2="47.30" y2="506.50" stroke="#1f5f5c" stroke-width="0.8" />
<circle cx="42.90" cy="506.50" r="1.2" fill="#1f5f5c" />
<text x="51.20" y="506.80" font-size="6.9" fill="#333" stroke="#333" stroke-width="0.1" textLength="63.4" lengthAdjust="spacingAndGlyphs" dominant-baseline="central" >APRIL-28BB-1XX/IL-18</text>
<text x="51.20" y="515.40" font-size="5.7" fill="#333" stroke="#333" stroke-width="0.1" font-style="italic" textLength="73" lengthAdjust="spacingAndGlyphs" dominant-baseline="central" >(4/10 toxicity, 2/10 tumor)</text>
<line x1="38.50" y1="525.70" x2="47.30" y2="525.70" stroke="#8f78c4" stroke-width="0.8" />
<circle cx="42.90" cy="525.70" r="1.2" fill="#8f78c4" />
<text x="51.20" y="526.00" font-size="6.9" fill="#333" stroke="#333" stroke-width="0.1" textLength="57.6" lengthAdjust="spacingAndGlyphs" dominant-baseline="central" >APRIL-BB-1XX/IL-18</text>
<line x1="135.80" y1="506.50" x2="143.50" y2="506.50" stroke="#c4305c" stroke-width="0.8" />
<circle cx="139.65" cy="506.50" r="1.2" fill="#c4305c" />
<text x="146.20" y="506.80" font-size="6.9" fill="#333" stroke="#333" stroke-width="0.1" textLength="64.6" lengthAdjust="spacingAndGlyphs" dominant-baseline="central" >BCMA-28BB-1XX/IL-18</text>
<line x1="135.80" y1="515.40" x2="143.50" y2="515.40" stroke="#d0d0d0" stroke-width="0.8" />
<circle cx="139.65" cy="515.40" r="1.2" fill="#d0d0d0" />
<text x="146.20" y="515.70" font-size="6.9" fill="#333" stroke="#333" stroke-width="0.1" textLength="30.8" lengthAdjust="spacingAndGlyphs" dominant-baseline="central" >tumor only</text>
<text x="204.30" y="406.90" font-size="7.6" fill="#333" stroke="#333" stroke-width="0.1" text-anchor="middle" textLength="28.5" lengthAdjust="spacingAndGlyphs" dominant-baseline="central" >survival</text>
<text x="140.60" y="448.70" font-size="8.2" fill="#333" stroke="#333" stroke-width="0.1" text-anchor="middle" textLength="46" lengthAdjust="spacingAndGlyphs" dominant-baseline="central" transform="rotate(-90 140.60 448.70)" >Percent survival</text>
<polyline points="165.20,426.20 224.40,426.20" fill="none" stroke="#c4c0cc" stroke-width="0.7" />
<polyline points="185.60,426.20 187.50,434.20 190.40,434.20 190.40,441.00 193.30,441.00 193.30,448.70 196.00,448.70 196.00,458.00 198.00,458.00 198.00,470.00 202.50,470.00 202.50,473.10" fill="none" stroke="#cfcfd3" stroke-width="0.7" />
<polyline points="185.60,426.20 185.60,430.00 187.50,434.20" fill="none" stroke="#cfcfd3" stroke-width="0.6" />
<polyline points="165.20,426.20 170.20,426.20 170.20,431.30 174.00,431.30 174.00,444.80 186.50,444.80 186.50,450.00 198.00,450.00 198.00,454.40 228.80,454.40" fill="none" stroke="#2f7a66" stroke-width="0.8" />
<polyline points="216.30,426.20 216.30,431.30 228.80,431.30" fill="none" stroke="#d04070" stroke-width="0.7" />
<polyline points="216.30,426.20 224.20,426.20 224.20,431.30" fill="none" stroke="#d04070" stroke-width="0.6" />
<line x1="212.50" y1="426.20" x2="212.50" y2="435.20" stroke="#d04070" stroke-width="0.6" />
<line x1="217.30" y1="431.30" x2="217.30" y2="441.90" stroke="#d04070" stroke-width="0.6" />
<line x1="221.50" y1="431.30" x2="221.50" y2="441.90" stroke="#d04070" stroke-width="0.6" />
<line x1="221.50" y1="441.90" x2="221.50" y2="454.40" stroke="#2f7a66" stroke-width="0.6" />
<line x1="189.40" y1="435.20" x2="202.90" y2="435.20" stroke="#c8c8cc" stroke-width="0.6" />
<line x1="193.30" y1="441.90" x2="207.70" y2="441.90" stroke="#c8c8cc" stroke-width="0.6" />
<circle cx="228.80" cy="431.30" r="1.2" fill="#222" />
<circle cx="228.80" cy="454.40" r="1.2" fill="#1f5f5c" />
<rect x="203.20" y="434.40" width="1.50" height="1.60" fill="#333" />
<rect x="208.00" y="441.10" width="1.50" height="1.60" fill="#333" />
<rect x="205.30" y="434.40" width="1.50" height="1.60" fill="#333" />
<rect x="210.10" y="441.10" width="1.50" height="1.60" fill="#333" />
<rect x="207.40" y="434.40" width="1.50" height="1.60" fill="#333" />
<rect x="212.20" y="441.10" width="1.50" height="1.60" fill="#333" />
<rect x="209.50" y="434.40" width="1.50" height="1.60" fill="#333" />
<rect x="214.30" y="441.10" width="1.50" height="1.60" fill="#333" />
<rect x="220.80" y="441.10" width="1.50" height="1.60" fill="#333" />
<rect x="226.30" y="430.50" width="1.40" height="1.60" fill="#333" />
<rect x="226.60" y="434.00" width="0.90" height="1.30" fill="#666" />
<rect x="226.60" y="436.40" width="0.90" height="1.30" fill="#666" />
<rect x="226.60" y="438.80" width="0.90" height="1.30" fill="#666" />
<rect x="226.60" y="441.20" width="0.90" height="1.30" fill="#666" />
<rect x="226.60" y="443.60" width="0.90" height="1.30" fill="#666" />
<rect x="226.60" y="446.00" width="0.90" height="1.30" fill="#666" />
<rect x="226.60" y="448.40" width="0.90" height="1.30" fill="#666" />
<rect x="226.60" y="450.80" width="0.90" height="1.30" fill="#666" />
<text x="232.70" y="445.80" font-size="6.4" fill="#222" stroke="#222" stroke-width="0.1" text-anchor="middle" textLength="15.5" lengthAdjust="spacingAndGlyphs" dominant-baseline="central" transform="rotate(90 232.70 445.80)" >0.055</text>
<text x="168.30" y="460.20" font-size="6.6" fill="#333" stroke="#333" stroke-width="0.1" font-style="italic" dominant-baseline="central" >n = 10</text>
<text x="168.30" y="467.20" font-size="6.6" fill="#333" stroke="#333" stroke-width="0.1" font-style="italic" textLength="27.9" lengthAdjust="spacingAndGlyphs" dominant-baseline="central" >per group</text>
<line x1="165.20" y1="422.70" x2="165.20" y2="473.10" stroke="#222" stroke-width="0.9" />
<line x1="162.20" y1="426.20" x2="165.20" y2="426.20" stroke="#222" stroke-width="0.8" />
<text x="159.40" y="426.50" font-size="6.3" fill="#333" stroke="#333" stroke-width="0.1" text-anchor="end" dominant-baseline="central" >100</text>
<line x1="162.20" y1="450.00" x2="165.20" y2="450.00" stroke="#222" stroke-width="0.8" />
<text x="159.40" y="450.30" font-size="6.3" fill="#333" stroke="#333" stroke-width="0.1" text-anchor="end" dominant-baseline="central" >50</text>
<line x1="162.20" y1="473.10" x2="165.20" y2="473.10" stroke="#222" stroke-width="0.8" />
<text x="159.40" y="473.40" font-size="6.3" fill="#333" stroke="#333" stroke-width="0.1" text-anchor="end" dominant-baseline="central" >0</text>
<line x1="165.20" y1="473.10" x2="240.40" y2="473.10" stroke="#222" stroke-width="0.9" />
<line x1="165.40" y1="473.10" x2="165.40" y2="475.70" stroke="#222" stroke-width="0.8" />
<text x="165.40" y="483.10" font-size="6.3" fill="#333" stroke="#333" stroke-width="0.1" text-anchor="middle" dominant-baseline="central" >0</text>
<line x1="197.10" y1="473.10" x2="197.10" y2="475.70" stroke="#222" stroke-width="0.8" />
<text x="197.10" y="483.10" font-size="6.3" fill="#333" stroke="#333" stroke-width="0.1" text-anchor="middle" dominant-baseline="central" >50</text>
<line x1="229.80" y1="473.10" x2="229.80" y2="475.70" stroke="#222" stroke-width="0.8" />
<text x="229.80" y="483.10" font-size="6.3" fill="#333" stroke="#333" stroke-width="0.1" text-anchor="middle" dominant-baseline="central" >100</text>
<text x="203.80" y="493.60" font-size="8.6" fill="#333" stroke="#333" stroke-width="0.1" text-anchor="middle" textLength="48" lengthAdjust="spacingAndGlyphs" dominant-baseline="central" >Days after tumor</text>
<text x="264.60" y="390.00" font-size="11.0" fill="#111" stroke="#111" stroke-width="0.1" font-weight="bold" dominant-baseline="central" >H</text>
<text x="326.90" y="390.80" font-size="8.9" fill="#333" stroke="#333" stroke-width="0.1" textLength="106" lengthAdjust="spacingAndGlyphs" dominant-baseline="central" >BAFF-R-28-1XX +/– IL-18</text>
<text x="338.50" y="406.90" font-size="7.6" fill="#333" stroke="#333" stroke-width="0.1" text-anchor="middle" textLength="36.3" lengthAdjust="spacingAndGlyphs" dominant-baseline="central" >tumor BLI</text>
<text x="263.20" y="448.00" font-size="8.2" fill="#333" stroke="#333" stroke-width="0.1" text-anchor="middle" textLength="64" lengthAdjust="spacingAndGlyphs" dominant-baseline="central" transform="rotate(-90 263.20 448.00)" >Tumor luminescence</text>
<text x="273.90" y="445.50" font-size="8.2" fill="#333" stroke="#333" stroke-width="0.1" text-anchor="middle" textLength="34" lengthAdjust="spacingAndGlyphs" dominant-baseline="central" transform="rotate(-90 273.90 445.50)" >(photons/s)</text>
<polyline points="311.99,457.98 325.88,444.00 339.76,436.64 353.65,432.22 367.54,427.80" fill="none" stroke="#b8d9ef" stroke-width="0.6" stroke-linejoin="round"/>
<circle cx="311.99" cy="457.98" r="0.8" fill="#b8d9ef" />
<circle cx="325.88" cy="444.00" r="0.8" fill="#b8d9ef" />
<circle cx="339.76" cy="436.64" r="0.8" fill="#b8d9ef" />
<circle cx="353.65" cy="432.22" r="0.8" fill="#b8d9ef" />
<circle cx="367.54" cy="427.80" r="0.8" fill="#b8d9ef" />
<polyline points="311.99,459.45 325.88,446.94 339.76,438.84 353.65,434.43 367.54,430.01" fill="none" stroke="#b8d9ef" stroke-width="0.6" stroke-linejoin="round"/>
<circle cx="311.99" cy="459.45" r="0.8" fill="#b8d9ef" />
<circle cx="325.88" cy="446.94" r="0.8" fill="#b8d9ef" />
<circle cx="339.76" cy="438.84" r="0.8" fill="#b8d9ef" />
<circle cx="353.65" cy="434.43" r="0.8" fill="#b8d9ef" />
<circle cx="367.54" cy="430.01" r="0.8" fill="#b8d9ef" />
<polyline points="311.99,456.51 325.88,445.84 339.76,438.84 353.65,435.16 367.54,431.48" fill="none" stroke="#3a9fd6" stroke-width="0.6" stroke-linejoin="round"/>
<circle cx="311.99" cy="456.51" r="0.85" fill="#3a9fd6" />
<circle cx="325.88" cy="445.84" r="0.85" fill="#3a9fd6" />
<circle cx="339.76" cy="438.84" r="0.85" fill="#3a9fd6" />
<circle cx="353.65" cy="435.16" r="0.85" fill="#3a9fd6" />
<circle cx="367.54" cy="431.48" r="0.85" fill="#3a9fd6" />
<polyline points="311.99,457.98 325.88,448.41 339.76,440.32 353.65,435.90 367.54,432.22" fill="none" stroke="#3a9fd6" stroke-width="0.6" stroke-linejoin="round"/>
<circle cx="311.99" cy="457.98" r="0.85" fill="#3a9fd6" />
<circle cx="325.88" cy="448.41" r="0.85" fill="#3a9fd6" />
<circle cx="339.76" cy="440.32" r="0.85" fill="#3a9fd6" />
<circle cx="353.65" cy="435.90" r="0.85" fill="#3a9fd6" />
<circle cx="367.54" cy="432.22" r="0.85" fill="#3a9fd6" />
<polyline points="311.99,459.45 325.88,452.83 339.76,443.26 353.65,436.64 367.54,432.96" fill="none" stroke="#3a9fd6" stroke-width="0.6" stroke-linejoin="round"/>
<circle cx="311.99" cy="459.45" r="0.85" fill="#3a9fd6" />
<circle cx="325.88" cy="452.83" r="0.85" fill="#3a9fd6" />
<circle cx="339.76" cy="443.26" r="0.85" fill="#3a9fd6" />
<circle cx="353.65" cy="436.64" r="0.85" fill="#3a9fd6" />
<circle cx="367.54" cy="432.96" r="0.85" fill="#3a9fd6" />
<polyline points="311.99,460.92 325.88,457.24 339.76,446.94 353.65,440.32 367.54,433.69" fill="none" stroke="#3a9fd6" stroke-width="0.6" stroke-linejoin="round"/>
<circle cx="311.99" cy="460.92" r="0.85" fill="#3a9fd6" />
<circle cx="325.88" cy="457.24" r="0.85" fill="#3a9fd6" />
<circle cx="339.76" cy="446.94" r="0.85" fill="#3a9fd6" />
<circle cx="353.65" cy="440.32" r="0.85" fill="#3a9fd6" />
<circle cx="367.54" cy="433.69" r="0.85" fill="#3a9fd6" />
<polyline points="311.99,461.66 325.88,459.45 339.76,451.36 353.65,444.00 367.54,441.05" fill="none" stroke="#3a9fd6" stroke-width="0.6" stroke-linejoin="round"/>
<circle cx="311.99" cy="461.66" r="0.85" fill="#3a9fd6" />
<circle cx="325.88" cy="459.45" r="0.85" fill="#3a9fd6" />
<circle cx="339.76" cy="451.36" r="0.85" fill="#3a9fd6" />
<circle cx="353.65" cy="444.00" r="0.85" fill="#3a9fd6" />
<circle cx="367.54" cy="441.05" r="0.85" fill="#3a9fd6" />
<polyline points="311.99,462.40 325.88,457.98 339.76,449.15 353.65,443.26 367.54,439.58" fill="none" stroke="#3a9fd6" stroke-width="0.6" stroke-linejoin="round"/>
<circle cx="311.99" cy="462.40" r="0.85" fill="#3a9fd6" />
<circle cx="325.88" cy="457.98" r="0.85" fill="#3a9fd6" />
<circle cx="339.76" cy="449.15" r="0.85" fill="#3a9fd6" />
<circle cx="353.65" cy="443.26" r="0.85" fill="#3a9fd6" />
<circle cx="367.54" cy="439.58" r="0.85" fill="#3a9fd6" />
<polyline points="311.99,466.81 325.88,462.40 339.76,462.03 353.65,462.76 367.54,462.03" fill="none" stroke="#1b3a6c" stroke-width="0.9" stroke-linejoin="round"/>
<circle cx="311.99" cy="466.81" r="0.95" fill="#1b3a6c" />
<circle cx="325.88" cy="462.40" r="0.95" fill="#1b3a6c" />
<circle cx="339.76" cy="462.03" r="0.95" fill="#1b3a6c" />
<circle cx="353.65" cy="462.76" r="0.95" fill="#1b3a6c" />
<circle cx="367.54" cy="462.03" r="0.95" fill="#1b3a6c" />
<polyline points="311.99,467.55 325.88,462.76 339.76,461.66 353.65,463.13 367.54,462.40" fill="none" stroke="#1b3a6c" stroke-width="0.9" stroke-linejoin="round"/>
<circle cx="311.99" cy="467.55" r="0.95" fill="#1b3a6c" />
<circle cx="325.88" cy="462.76" r="0.95" fill="#1b3a6c" />
<circle cx="339.76" cy="461.66" r="0.95" fill="#1b3a6c" />
<circle cx="353.65" cy="463.13" r="0.95" fill="#1b3a6c" />
<circle cx="367.54" cy="462.40" r="0.95" fill="#1b3a6c" />
<polyline points="311.99,465.34 325.88,462.03 339.76,462.40 353.65,462.76 367.54,461.66" fill="none" stroke="#1b3a6c" stroke-width="0.9" stroke-linejoin="round"/>
<circle cx="311.99" cy="465.34" r="0.95" fill="#1b3a6c" />
<circle cx="325.88" cy="462.03" r="0.95" fill="#1b3a6c" />
<circle cx="339.76" cy="462.40" r="0.95" fill="#1b3a6c" />
<circle cx="353.65" cy="462.76" r="0.95" fill="#1b3a6c" />
<circle cx="367.54" cy="461.66" r="0.95" fill="#1b3a6c" />
<line x1="298.10" y1="418.70" x2="298.10" y2="472.70" stroke="#222" stroke-width="0.9" />
<line x1="295.10" y1="421.20" x2="298.10" y2="421.20" stroke="#222" stroke-width="0.8" />
<text x="292.10" y="421.70" font-size="5.9" fill="#333" stroke="#333" stroke-width="0.12" text-anchor="end" dominant-baseline="central">10<tspan font-size="3.7" dy="-2.3" fill="#666" stroke="#666" stroke-width="0.08">11</tspan></text>
<line x1="295.10" y1="428.56" x2="298.10" y2="428.56" stroke="#222" stroke-width="0.8" />
<text x="292.10" y="429.06" font-size="5.9" fill="#333" stroke="#333" stroke-width="0.12" text-anchor="end" dominant-baseline="central">10<tspan font-size="3.7" dy="-2.3" fill="#666" stroke="#666" stroke-width="0.08">10</tspan></text>
<line x1="295.10" y1="435.91" x2="298.10" y2="435.91" stroke="#222" stroke-width="0.8" />
<text x="292.10" y="436.41" font-size="5.9" fill="#333" stroke="#333" stroke-width="0.12" text-anchor="end" dominant-baseline="central">10<tspan font-size="3.7" dy="-2.3" fill="#666" stroke="#666" stroke-width="0.08">9</tspan></text>
<line x1="295.10" y1="443.27" x2="298.10" y2="443.27" stroke="#222" stroke-width="0.8" />
<text x="292.10" y="443.77" font-size="5.9" fill="#333" stroke="#333" stroke-width="0.12" text-anchor="end" dominant-baseline="central">10<tspan font-size="3.7" dy="-2.3" fill="#666" stroke="#666" stroke-width="0.08">8</tspan></text>
<line x1="295.10" y1="450.63" x2="298.10" y2="450.63" stroke="#222" stroke-width="0.8" />
<text x="292.10" y="451.13" font-size="5.9" fill="#333" stroke="#333" stroke-width="0.12" text-anchor="end" dominant-baseline="central">10<tspan font-size="3.7" dy="-2.3" fill="#666" stroke="#666" stroke-width="0.08">7</tspan></text>
<line x1="295.10" y1="457.99" x2="298.10" y2="457.99" stroke="#222" stroke-width="0.8" />
<text x="292.10" y="458.49" font-size="5.9" fill="#333" stroke="#333" stroke-width="0.12" text-anchor="end" dominant-baseline="central">10<tspan font-size="3.7" dy="-2.3" fill="#666" stroke="#666" stroke-width="0.08">6</tspan></text>
<line x1="295.10" y1="465.34" x2="298.10" y2="465.34" stroke="#222" stroke-width="0.8" />
<text x="292.10" y="465.84" font-size="5.9" fill="#333" stroke="#333" stroke-width="0.12" text-anchor="end" dominant-baseline="central">10<tspan font-size="3.7" dy="-2.3" fill="#666" stroke="#666" stroke-width="0.08">5</tspan></text>
<line x1="295.10" y1="472.70" x2="298.10" y2="472.70" stroke="#222" stroke-width="0.8" />
<text x="292.10" y="473.20" font-size="5.9" fill="#333" stroke="#333" stroke-width="0.12" text-anchor="end" dominant-baseline="central">10<tspan font-size="3.7" dy="-2.3" fill="#666" stroke="#666" stroke-width="0.08">4</tspan></text>
<line x1="298.10" y1="472.70" x2="378.80" y2="472.70" stroke="#222" stroke-width="0.9" />
<line x1="298.10" y1="472.70" x2="298.10" y2="475.30" stroke="#222" stroke-width="0.8" />
<text x="298.10" y="483.30" font-size="6.3" fill="#333" stroke="#333" stroke-width="0.1" text-anchor="middle" dominant-baseline="central" >0</text>
<line x1="317.90" y1="472.70" x2="317.90" y2="475.30" stroke="#222" stroke-width="0.8" />
<text x="317.90" y="483.30" font-size="6.3" fill="#333" stroke="#333" stroke-width="0.1" text-anchor="middle" dominant-baseline="central" >10</text>
<line x1="337.70" y1="472.70" x2="337.70" y2="475.30" stroke="#222" stroke-width="0.8" />
<text x="337.70" y="483.30" font-size="6.3" fill="#333" stroke="#333" stroke-width="0.1" text-anchor="middle" dominant-baseline="central" >20</text>
<line x1="357.70" y1="472.70" x2="357.70" y2="475.30" stroke="#222" stroke-width="0.8" />
<text x="357.70" y="483.30" font-size="6.3" fill="#333" stroke="#333" stroke-width="0.1" text-anchor="middle" dominant-baseline="central" >30</text>
<line x1="377.50" y1="472.70" x2="377.50" y2="475.30" stroke="#222" stroke-width="0.8" />
<text x="377.50" y="483.30" font-size="6.3" fill="#333" stroke="#333" stroke-width="0.1" text-anchor="middle" dominant-baseline="central" >40</text>
<text x="339.00" y="493.80" font-size="8.6" fill="#333" stroke="#333" stroke-width="0.1" text-anchor="middle" textLength="48" lengthAdjust="spacingAndGlyphs" dominant-baseline="central" >Days after tumor</text>
<line x1="294.80" y1="508.20" x2="303.70" y2="508.20" stroke="#3a9fd6" stroke-width="0.8" />
<circle cx="299.25" cy="508.20" r="1.2" fill="#3a9fd6" />
<text x="306.40" y="508.50" font-size="6.9" fill="#333" stroke="#333" stroke-width="0.1" textLength="44" lengthAdjust="spacingAndGlyphs" dominant-baseline="central" >BAFF-R-28-1XX</text>
<line x1="294.80" y1="517.70" x2="303.70" y2="517.70" stroke="#1b3a6c" stroke-width="0.8" />
<circle cx="299.25" cy="517.70" r="1.2" fill="#1b3a6c" />
<text x="306.40" y="518.00" font-size="6.9" fill="#333" stroke="#333" stroke-width="0.1" textLength="77" lengthAdjust="spacingAndGlyphs" dominant-baseline="central" >BAFF-R-28-1XX/IL-18-BFP</text>
<line x1="294.80" y1="527.10" x2="303.70" y2="527.10" stroke="#b8d9ef" stroke-width="0.8" />
<circle cx="299.25" cy="527.10" r="1.2" fill="#b8d9ef" />
<text x="306.40" y="527.40" font-size="6.9" fill="#333" stroke="#333" stroke-width="0.1" textLength="30.7" lengthAdjust="spacingAndGlyphs" dominant-baseline="central" >tumor only</text>
<text x="458.80" y="406.90" font-size="7.6" fill="#333" stroke="#333" stroke-width="0.1" text-anchor="middle" textLength="27.6" lengthAdjust="spacingAndGlyphs" dominant-baseline="central" >survival</text>
<text x="394.10" y="446.90" font-size="8.2" fill="#333" stroke="#333" stroke-width="0.1" text-anchor="middle" textLength="46.3" lengthAdjust="spacingAndGlyphs" dominant-baseline="central" transform="rotate(-90 394.10 446.90)" >Percent survival</text>
<polyline points="418.30,425.20 458.97,425.20 458.97,425.20 458.97,425.20 458.97,434.80 465.92,434.80 465.92,434.80 465.92,434.80 465.92,454.00 478.81,454.00 478.81,454.00 478.81,454.00 478.81,463.60 479.80,463.60 479.80,463.60 479.80,463.60 479.80,473.20" fill="none" stroke="#ecdcc8" stroke-width="0.7" />
<polyline points="418.30,425.20 455.00,425.20 455.00,425.20 455.00,425.20 455.00,434.80 465.92,434.80 465.92,434.80 465.92,434.80 465.92,444.40 473.85,444.40 473.85,444.40 473.85,444.40 473.85,463.60 489.72,463.60 489.72,463.60 489.72,463.60 489.72,473.20" fill="none" stroke="#6cbce6" stroke-width="0.8" />
<polyline points="418.30,425.20 489.72,425.20" fill="none" stroke="#5aa6d6" stroke-width="0.8" />
<polyline points="472.86,425.20 489.72,425.20" fill="none" stroke="#1b3a6c" stroke-width="0.8" />
<circle cx="489.72" cy="425.20" r="1.2" fill="#1b3a6c" />
<line x1="489.10" y1="429.80" x2="489.10" y2="460.50" stroke="#222" stroke-width="0.9" />
<text x="492.70" y="445.70" font-size="6.4" fill="#222" stroke="#222" stroke-width="0.1" text-anchor="middle" dominant-baseline="central" transform="rotate(90 492.70 445.70)" >**</text>
<text x="421.40" y="466.80" font-size="6.6" fill="#333" stroke="#333" stroke-width="0.1" font-style="italic" textLength="44.5" lengthAdjust="spacingAndGlyphs" dominant-baseline="central" >n = 5 per group</text>
<line x1="417.80" y1="421.70" x2="417.80" y2="473.20" stroke="#222" stroke-width="0.9" />
<line x1="414.80" y1="425.20" x2="417.80" y2="425.20" stroke="#222" stroke-width="0.8" />
<text x="412.00" y="425.50" font-size="6.3" fill="#333" stroke="#333" stroke-width="0.1" text-anchor="end" dominant-baseline="central" >100</text>
<line x1="414.80" y1="449.30" x2="417.80" y2="449.30" stroke="#222" stroke-width="0.8" />
<text x="412.00" y="449.60" font-size="6.3" fill="#333" stroke="#333" stroke-width="0.1" text-anchor="end" dominant-baseline="central" >50</text>
<line x1="414.80" y1="473.20" x2="417.80" y2="473.20" stroke="#222" stroke-width="0.8" />
<text x="412.00" y="473.50" font-size="6.3" fill="#333" stroke="#333" stroke-width="0.1" text-anchor="end" dominant-baseline="central" >0</text>
<line x1="417.80" y1="473.20" x2="499.70" y2="473.20" stroke="#222" stroke-width="0.9" />
<line x1="418.70" y1="473.20" x2="418.70" y2="475.80" stroke="#222" stroke-width="0.8" />
<text x="418.70" y="482.40" font-size="6.3" fill="#333" stroke="#333" stroke-width="0.1" text-anchor="middle" dominant-baseline="central" >0</text>
<line x1="437.90" y1="473.20" x2="437.90" y2="475.80" stroke="#222" stroke-width="0.8" />
<text x="437.90" y="482.40" font-size="6.3" fill="#333" stroke="#333" stroke-width="0.1" text-anchor="middle" dominant-baseline="central" >20</text>
<line x1="457.40" y1="473.20" x2="457.40" y2="475.80" stroke="#222" stroke-width="0.8" />
<text x="457.40" y="482.40" font-size="6.3" fill="#333" stroke="#333" stroke-width="0.1" text-anchor="middle" dominant-baseline="central" >40</text>
<line x1="477.50" y1="473.20" x2="477.50" y2="475.80" stroke="#222" stroke-width="0.8" />
<text x="477.50" y="482.40" font-size="6.3" fill="#333" stroke="#333" stroke-width="0.1" text-anchor="middle" dominant-baseline="central" >60</text>
<line x1="497.60" y1="473.20" x2="497.60" y2="475.80" stroke="#222" stroke-width="0.8" />
<text x="497.60" y="482.40" font-size="6.3" fill="#333" stroke="#333" stroke-width="0.1" text-anchor="middle" dominant-baseline="central" >80</text>
<text x="459.50" y="494.30" font-size="8.6" fill="#333" stroke="#333" stroke-width="0.1" text-anchor="middle" textLength="48" lengthAdjust="spacingAndGlyphs" dominant-baseline="central" >Days after tumor</text>
<text x="9.2" y="545.9" font-size="10.5" fill="#111" font-weight="bold" dominant-baseline="central">I</text>
<text x="164.20" y="544.60" font-size="8.9" fill="#333" stroke="#333" stroke-width="0.1" textLength="101" lengthAdjust="spacingAndGlyphs" dominant-baseline="central" >APRIL-BB-1XX +/– IL-18</text>
<text x="87.30" y="560.40" font-size="7.6" fill="#333" stroke="#333" stroke-width="0.1" text-anchor="middle" textLength="36.6" lengthAdjust="spacingAndGlyphs" dominant-baseline="central" >tumor BLI</text>
<text x="11.60" y="595.40" font-size="8.2" fill="#333" stroke="#333" stroke-width="0.1" text-anchor="middle" textLength="61" lengthAdjust="spacingAndGlyphs" dominant-baseline="central" transform="rotate(-90 11.60 595.40)" >Tumor luminescence</text>
<text x="21.80" y="594.00" font-size="8.2" fill="#333" stroke="#333" stroke-width="0.1" text-anchor="middle" textLength="32" lengthAdjust="spacingAndGlyphs" dominant-baseline="central" transform="rotate(-90 21.80 594.00)" >(photons/s)</text>
<polyline points="60.55,611.96 74.20,594.72 87.85,584.37 101.50,581.79 115.15,578.34" fill="none" stroke="#cacad4" stroke-width="0.7" stroke-linejoin="round"/>
<circle cx="60.55" cy="611.96" r="0.8" fill="#cacad4" />
<circle cx="74.20" cy="594.72" r="0.8" fill="#cacad4" />
<circle cx="87.85" cy="584.37" r="0.8" fill="#cacad4" />
<circle cx="101.50" cy="581.79" r="0.8" fill="#cacad4" />
<circle cx="115.15" cy="578.34" r="0.8" fill="#cacad4" />
<polyline points="60.55,613.68 74.20,597.30 87.85,586.96 101.50,583.51 115.15,580.06" fill="none" stroke="#cacad4" stroke-width="0.7" stroke-linejoin="round"/>
<circle cx="60.55" cy="613.68" r="0.8" fill="#cacad4" />
<circle cx="74.20" cy="597.30" r="0.8" fill="#cacad4" />
<circle cx="87.85" cy="586.96" r="0.8" fill="#cacad4" />
<circle cx="101.50" cy="583.51" r="0.8" fill="#cacad4" />
<circle cx="115.15" cy="580.06" r="0.8" fill="#cacad4" />
<polyline points="60.55,611.09 74.20,592.99 87.85,583.51 101.50,580.06 115.15,577.48" fill="none" stroke="#cacad4" stroke-width="0.7" stroke-linejoin="round"/>
<circle cx="60.55" cy="611.09" r="0.8" fill="#cacad4" />
<circle cx="74.20" cy="592.99" r="0.8" fill="#cacad4" />
<circle cx="87.85" cy="583.51" r="0.8" fill="#cacad4" />
<circle cx="101.50" cy="580.06" r="0.8" fill="#cacad4" />
<circle cx="115.15" cy="577.48" r="0.8" fill="#cacad4" />
<polyline points="60.55,613.68 74.20,601.61 87.85,589.54 101.50,586.10 115.15,582.65" fill="none" stroke="#a29cd0" stroke-width="0.6" stroke-linejoin="round"/>
<circle cx="60.55" cy="613.68" r="0.8" fill="#a29cd0" />
<circle cx="74.20" cy="601.61" r="0.8" fill="#a29cd0" />
<circle cx="87.85" cy="589.54" r="0.8" fill="#a29cd0" />
<circle cx="101.50" cy="586.10" r="0.8" fill="#a29cd0" />
<circle cx="115.15" cy="582.65" r="0.8" fill="#a29cd0" />
<polyline points="60.55,615.40 74.20,605.06 87.85,591.27 101.50,587.82 115.15,585.23" fill="none" stroke="#a29cd0" stroke-width="0.6" stroke-linejoin="round"/>
<circle cx="60.55" cy="615.40" r="0.8" fill="#a29cd0" />
<circle cx="74.20" cy="605.06" r="0.8" fill="#a29cd0" />
<circle cx="87.85" cy="591.27" r="0.8" fill="#a29cd0" />
<circle cx="101.50" cy="587.82" r="0.8" fill="#a29cd0" />
<circle cx="115.15" cy="585.23" r="0.8" fill="#a29cd0" />
<polyline points="60.55,614.54 74.20,604.20 87.85,592.99 101.50,590.41 115.15,588.68" fill="none" stroke="#a29cd0" stroke-width="0.6" stroke-linejoin="round"/>
<circle cx="60.55" cy="614.54" r="0.8" fill="#a29cd0" />
<circle cx="74.20" cy="604.20" r="0.8" fill="#a29cd0" />
<circle cx="87.85" cy="592.99" r="0.8" fill="#a29cd0" />
<circle cx="101.50" cy="590.41" r="0.8" fill="#a29cd0" />
<circle cx="115.15" cy="588.68" r="0.8" fill="#a29cd0" />
<polyline points="60.55,616.27 74.20,609.37 87.85,594.72 101.50,592.13 115.15,589.54" fill="none" stroke="#a29cd0" stroke-width="0.6" stroke-linejoin="round"/>
<circle cx="60.55" cy="616.27" r="0.8" fill="#a29cd0" />
<circle cx="74.20" cy="609.37" r="0.8" fill="#a29cd0" />
<circle cx="87.85" cy="594.72" r="0.8" fill="#a29cd0" />
<circle cx="101.50" cy="592.13" r="0.8" fill="#a29cd0" />
<circle cx="115.15" cy="589.54" r="0.8" fill="#a29cd0" />
<polyline points="60.55,612.82 74.20,599.03 87.85,588.68 101.50,584.37 115.15,580.92" fill="none" stroke="#a29cd0" stroke-width="0.6" stroke-linejoin="round"/>
<circle cx="60.55" cy="612.82" r="0.8" fill="#a29cd0" />
<circle cx="74.20" cy="599.03" r="0.8" fill="#a29cd0" />
<circle cx="87.85" cy="588.68" r="0.8" fill="#a29cd0" />
<circle cx="101.50" cy="584.37" r="0.8" fill="#a29cd0" />
<circle cx="115.15" cy="580.92" r="0.8" fill="#a29cd0" />
<polyline points="60.55,617.13 74.20,611.96 87.85,597.30 101.50,593.85 115.15,591.27" fill="none" stroke="#a29cd0" stroke-width="0.6" stroke-linejoin="round"/>
<circle cx="60.55" cy="617.13" r="0.8" fill="#a29cd0" />
<circle cx="74.20" cy="611.96" r="0.8" fill="#a29cd0" />
<circle cx="87.85" cy="597.30" r="0.8" fill="#a29cd0" />
<circle cx="101.50" cy="593.85" r="0.8" fill="#a29cd0" />
<circle cx="115.15" cy="591.27" r="0.8" fill="#a29cd0" />
<polyline points="60.55,615.40 74.20,606.78 87.85,596.44 101.50,592.99 115.15,591.27" fill="none" stroke="#a29cd0" stroke-width="0.6" stroke-linejoin="round"/>
<circle cx="60.55" cy="615.40" r="0.8" fill="#a29cd0" />
<circle cx="74.20" cy="606.78" r="0.8" fill="#a29cd0" />
<circle cx="87.85" cy="596.44" r="0.8" fill="#a29cd0" />
<circle cx="101.50" cy="592.99" r="0.8" fill="#a29cd0" />
<circle cx="115.15" cy="591.27" r="0.8" fill="#a29cd0" />
<polyline points="60.55,616.27 74.20,613.68 87.85,607.65 101.50,606.78 115.15,603.34" fill="none" stroke="#1f4a8c" stroke-width="0.7" stroke-linejoin="round"/>
<rect x="59.65" y="615.37" width="1.80" height="1.80" fill="#1f4a8c" />
<rect x="73.30" y="612.78" width="1.80" height="1.80" fill="#1f4a8c" />
<rect x="86.95" y="606.75" width="1.80" height="1.80" fill="#1f4a8c" />
<rect x="100.60" y="605.88" width="1.80" height="1.80" fill="#1f4a8c" />
<rect x="114.25" y="602.44" width="1.80" height="1.80" fill="#1f4a8c" />
<polyline points="60.55,615.40 74.20,612.82 87.85,604.20 101.50,612.82 115.15,613.68" fill="none" stroke="#1f4a8c" stroke-width="0.7" stroke-linejoin="round"/>
<rect x="59.65" y="614.50" width="1.80" height="1.80" fill="#1f4a8c" />
<rect x="73.30" y="611.92" width="1.80" height="1.80" fill="#1f4a8c" />
<rect x="86.95" y="603.30" width="1.80" height="1.80" fill="#1f4a8c" />
<rect x="100.60" y="611.92" width="1.80" height="1.80" fill="#1f4a8c" />
<rect x="114.25" y="612.78" width="1.80" height="1.80" fill="#1f4a8c" />
<polyline points="60.55,617.99 74.20,617.13 87.85,611.96 101.50,612.82 115.15,617.13" fill="none" stroke="#1f4a8c" stroke-width="0.7" stroke-linejoin="round"/>
<rect x="59.65" y="617.09" width="1.80" height="1.80" fill="#1f4a8c" />
<rect x="73.30" y="616.23" width="1.80" height="1.80" fill="#1f4a8c" />
<rect x="86.95" y="611.06" width="1.80" height="1.80" fill="#1f4a8c" />
<rect x="100.60" y="611.92" width="1.80" height="1.80" fill="#1f4a8c" />
<rect x="114.25" y="616.23" width="1.80" height="1.80" fill="#1f4a8c" />
<polyline points="60.55,617.13 74.20,617.99 87.85,617.13 101.50,616.27 115.15,618.85" fill="none" stroke="#1f4a8c" stroke-width="0.7" stroke-linejoin="round"/>
<rect x="59.65" y="616.23" width="1.80" height="1.80" fill="#1f4a8c" />
<rect x="73.30" y="617.09" width="1.80" height="1.80" fill="#1f4a8c" />
<rect x="86.95" y="616.23" width="1.80" height="1.80" fill="#1f4a8c" />
<rect x="100.60" y="615.37" width="1.80" height="1.80" fill="#1f4a8c" />
<rect x="114.25" y="617.95" width="1.80" height="1.80" fill="#1f4a8c" />
<polyline points="60.55,617.99 74.20,616.27 87.85,616.27 101.50,617.99 115.15,618.85" fill="none" stroke="#1f4a8c" stroke-width="0.7" stroke-linejoin="round"/>
<rect x="59.65" y="617.09" width="1.80" height="1.80" fill="#1f4a8c" />
<rect x="73.30" y="615.37" width="1.80" height="1.80" fill="#1f4a8c" />
<rect x="86.95" y="615.37" width="1.80" height="1.80" fill="#1f4a8c" />
<rect x="100.60" y="617.09" width="1.80" height="1.80" fill="#1f4a8c" />
<rect x="114.25" y="617.95" width="1.80" height="1.80" fill="#1f4a8c" />
<polyline points="60.55,616.27 74.20,617.13 87.85,615.40 101.50,617.13 115.15,617.99" fill="none" stroke="#1f4a8c" stroke-width="0.7" stroke-linejoin="round"/>
<rect x="59.65" y="615.37" width="1.80" height="1.80" fill="#1f4a8c" />
<rect x="73.30" y="616.23" width="1.80" height="1.80" fill="#1f4a8c" />
<rect x="86.95" y="614.50" width="1.80" height="1.80" fill="#1f4a8c" />
<rect x="100.60" y="616.23" width="1.80" height="1.80" fill="#1f4a8c" />
<rect x="114.25" y="617.09" width="1.80" height="1.80" fill="#1f4a8c" />
<polyline points="60.55,617.13 74.20,618.85 87.85,608.51 101.50,611.96 115.15,617.99" fill="none" stroke="#1f4a8c" stroke-width="0.7" stroke-linejoin="round"/>
<rect x="59.65" y="616.23" width="1.80" height="1.80" fill="#1f4a8c" />
<rect x="73.30" y="617.95" width="1.80" height="1.80" fill="#1f4a8c" />
<rect x="86.95" y="607.61" width="1.80" height="1.80" fill="#1f4a8c" />
<rect x="100.60" y="611.06" width="1.80" height="1.80" fill="#1f4a8c" />
<rect x="114.25" y="617.09" width="1.80" height="1.80" fill="#1f4a8c" />
<line x1="46.60" y1="568.10" x2="46.60" y2="622.30" stroke="#222" stroke-width="0.9" />
<line x1="43.60" y1="570.60" x2="46.60" y2="570.60" stroke="#222" stroke-width="0.8" />
<text x="40.60" y="571.10" font-size="5.9" fill="#333" stroke="#333" stroke-width="0.12" text-anchor="end" dominant-baseline="central">10<tspan font-size="3.7" dy="-2.3" fill="#666" stroke="#666" stroke-width="0.08">11</tspan></text>
<line x1="43.60" y1="579.22" x2="46.60" y2="579.22" stroke="#222" stroke-width="0.8" />
<text x="40.60" y="579.72" font-size="5.9" fill="#333" stroke="#333" stroke-width="0.12" text-anchor="end" dominant-baseline="central">10<tspan font-size="3.7" dy="-2.3" fill="#666" stroke="#666" stroke-width="0.08">10</tspan></text>
<line x1="43.60" y1="587.83" x2="46.60" y2="587.83" stroke="#222" stroke-width="0.8" />
<text x="40.60" y="588.33" font-size="5.9" fill="#333" stroke="#333" stroke-width="0.12" text-anchor="end" dominant-baseline="central">10<tspan font-size="3.7" dy="-2.3" fill="#666" stroke="#666" stroke-width="0.08">9</tspan></text>
<line x1="43.60" y1="596.45" x2="46.60" y2="596.45" stroke="#222" stroke-width="0.8" />
<text x="40.60" y="596.95" font-size="5.9" fill="#333" stroke="#333" stroke-width="0.12" text-anchor="end" dominant-baseline="central">10<tspan font-size="3.7" dy="-2.3" fill="#666" stroke="#666" stroke-width="0.08">8</tspan></text>
<line x1="43.60" y1="605.07" x2="46.60" y2="605.07" stroke="#222" stroke-width="0.8" />
<text x="40.60" y="605.57" font-size="5.9" fill="#333" stroke="#333" stroke-width="0.12" text-anchor="end" dominant-baseline="central">10<tspan font-size="3.7" dy="-2.3" fill="#666" stroke="#666" stroke-width="0.08">7</tspan></text>
<line x1="43.60" y1="613.68" x2="46.60" y2="613.68" stroke="#222" stroke-width="0.8" />
<text x="40.60" y="614.18" font-size="5.9" fill="#333" stroke="#333" stroke-width="0.12" text-anchor="end" dominant-baseline="central">10<tspan font-size="3.7" dy="-2.3" fill="#666" stroke="#666" stroke-width="0.08">6</tspan></text>
<line x1="43.60" y1="622.30" x2="46.60" y2="622.30" stroke="#222" stroke-width="0.8" />
<text x="40.60" y="622.80" font-size="5.9" fill="#333" stroke="#333" stroke-width="0.12" text-anchor="end" dominant-baseline="central">10<tspan font-size="3.7" dy="-2.3" fill="#666" stroke="#666" stroke-width="0.08">5</tspan></text>
<line x1="46.60" y1="622.30" x2="127.00" y2="622.30" stroke="#222" stroke-width="0.9" />
<line x1="46.90" y1="622.30" x2="46.90" y2="624.90" stroke="#222" stroke-width="0.8" />
<text x="46.90" y="631.30" font-size="6.3" fill="#333" stroke="#333" stroke-width="0.1" text-anchor="middle" dominant-baseline="central" >0</text>
<line x1="66.40" y1="622.30" x2="66.40" y2="624.90" stroke="#222" stroke-width="0.8" />
<text x="66.40" y="631.30" font-size="6.3" fill="#333" stroke="#333" stroke-width="0.1" text-anchor="middle" dominant-baseline="central" >10</text>
<line x1="85.40" y1="622.30" x2="85.40" y2="624.90" stroke="#222" stroke-width="0.8" />
<text x="85.40" y="631.30" font-size="6.3" fill="#333" stroke="#333" stroke-width="0.1" text-anchor="middle" dominant-baseline="central" >20</text>
<line x1="105.10" y1="622.30" x2="105.10" y2="624.90" stroke="#222" stroke-width="0.8" />
<text x="105.10" y="631.30" font-size="6.3" fill="#333" stroke="#333" stroke-width="0.1" text-anchor="middle" dominant-baseline="central" >30</text>
<line x1="125.20" y1="622.30" x2="125.20" y2="624.90" stroke="#222" stroke-width="0.8" />
<text x="125.20" y="631.30" font-size="6.3" fill="#333" stroke="#333" stroke-width="0.1" text-anchor="middle" dominant-baseline="central" >40</text>
<text x="87.10" y="643.20" font-size="8.6" fill="#333" stroke="#333" stroke-width="0.1" text-anchor="middle" textLength="48" lengthAdjust="spacingAndGlyphs" dominant-baseline="central" >Days after tumor</text>
<text x="214.40" y="560.40" font-size="7.6" fill="#333" stroke="#333" stroke-width="0.1" text-anchor="middle" textLength="33.4" lengthAdjust="spacingAndGlyphs" dominant-baseline="central" >T cell BLI</text>
<text x="142.00" y="595.60" font-size="8.2" fill="#333" stroke="#333" stroke-width="0.1" text-anchor="middle" textLength="57" lengthAdjust="spacingAndGlyphs" dominant-baseline="central" transform="rotate(-90 142.00 595.60)" >T cell luminescence</text>
<text x="153.30" y="596.10" font-size="8.2" fill="#333" stroke="#333" stroke-width="0.1" text-anchor="middle" textLength="35" lengthAdjust="spacingAndGlyphs" dominant-baseline="central" transform="rotate(-90 153.30 596.10)" >(photons/s)</text>
<line x1="174.90" y1="569.50" x2="174.90" y2="622.90" stroke="#222" stroke-width="0.9" />
<line x1="171.90" y1="571.70" x2="174.90" y2="571.70" stroke="#222" stroke-width="0.8" />
<text x="168.90" y="572.20" font-size="5.9" fill="#333" stroke="#333" stroke-width="0.12" text-anchor="end" dominant-baseline="central">10<tspan font-size="3.7" dy="-2.3" fill="#666" stroke="#666" stroke-width="0.08">9</tspan></text>
<line x1="171.90" y1="597.30" x2="174.90" y2="597.30" stroke="#222" stroke-width="0.8" />
<text x="168.90" y="597.80" font-size="5.9" fill="#333" stroke="#333" stroke-width="0.12" text-anchor="end" dominant-baseline="central">10<tspan font-size="3.7" dy="-2.3" fill="#666" stroke="#666" stroke-width="0.08">8</tspan></text>
<line x1="171.90" y1="622.90" x2="174.90" y2="622.90" stroke="#222" stroke-width="0.8" />
<text x="168.90" y="623.40" font-size="5.9" fill="#333" stroke="#333" stroke-width="0.12" text-anchor="end" dominant-baseline="central">10<tspan font-size="3.7" dy="-2.3" fill="#666" stroke="#666" stroke-width="0.08">7</tspan></text>
<line x1="174.90" y1="622.90" x2="253.00" y2="622.90" stroke="#222" stroke-width="0.9" />
<line x1="174.90" y1="622.90" x2="174.90" y2="625.50" stroke="#222" stroke-width="0.8" />
<text x="174.90" y="631.50" font-size="6.3" fill="#333" stroke="#333" stroke-width="0.1" text-anchor="middle" dominant-baseline="central" >0</text>
<line x1="200.20" y1="622.90" x2="200.20" y2="625.50" stroke="#222" stroke-width="0.8" />
<text x="200.20" y="631.50" font-size="6.3" fill="#333" stroke="#333" stroke-width="0.1" text-anchor="middle" dominant-baseline="central" >10</text>
<line x1="225.50" y1="622.90" x2="225.50" y2="625.50" stroke="#222" stroke-width="0.8" />
<text x="225.50" y="631.50" font-size="6.3" fill="#333" stroke="#333" stroke-width="0.1" text-anchor="middle" dominant-baseline="central" >20</text>
<line x1="250.80" y1="622.90" x2="250.80" y2="625.50" stroke="#222" stroke-width="0.8" />
<text x="250.80" y="631.50" font-size="6.3" fill="#333" stroke="#333" stroke-width="0.1" text-anchor="middle" dominant-baseline="central" >30</text>
<polyline points="190.08,587.00 207.79,594.50 225.50,585.00 243.21,587.00" fill="none" stroke="#9a92cc" stroke-width="0.7" />
<polyline points="190.08,587.00 207.79,583.00 225.50,582.50 243.21,578.80" fill="none" stroke="#2a5a8c" stroke-width="0.8" />
<line x1="190.08" y1="586.00" x2="190.08" y2="588.00" stroke="#9a92cc" stroke-width="0.6" />
<circle cx="190.08" cy="587.00" r="0.9" fill="#9a92cc" />
<line x1="207.79" y1="592.70" x2="207.79" y2="596.30" stroke="#9a92cc" stroke-width="0.6" />
<circle cx="207.79" cy="594.50" r="0.9" fill="#9a92cc" />
<line x1="225.50" y1="583.50" x2="225.50" y2="586.50" stroke="#9a92cc" stroke-width="0.6" />
<circle cx="225.50" cy="585.00" r="0.9" fill="#9a92cc" />
<line x1="243.21" y1="584.50" x2="243.21" y2="589.50" stroke="#9a92cc" stroke-width="0.6" />
<circle cx="243.21" cy="587.00" r="0.9" fill="#9a92cc" />
<line x1="190.08" y1="586.20" x2="190.08" y2="587.80" stroke="#2a5a8c" stroke-width="0.6" />
<rect x="189.18" y="586.10" width="1.80" height="1.80" fill="#2a5a8c" />
<line x1="207.79" y1="581.40" x2="207.79" y2="584.60" stroke="#2a5a8c" stroke-width="0.6" />
<rect x="206.89" y="582.10" width="1.80" height="1.80" fill="#2a5a8c" />
<line x1="225.50" y1="580.30" x2="225.50" y2="584.70" stroke="#2a5a8c" stroke-width="0.6" />
<rect x="224.60" y="581.60" width="1.80" height="1.80" fill="#2a5a8c" />
<line x1="243.21" y1="574.80" x2="243.21" y2="582.80" stroke="#2a5a8c" stroke-width="0.6" />
<rect x="242.31" y="577.90" width="1.80" height="1.80" fill="#2a5a8c" />
<text x="208.80" y="578.60" font-size="7" fill="#222" stroke="#222" stroke-width="0.1" text-anchor="middle" dominant-baseline="central" >**</text>
<text x="207.50" y="643.00" font-size="8.6" fill="#333" stroke="#333" stroke-width="0.1" text-anchor="middle" textLength="47" lengthAdjust="spacingAndGlyphs" dominant-baseline="central" >Days after tumor</text>
<line x1="148.60" y1="657.00" x2="157.50" y2="657.00" stroke="#8a8ac4" stroke-width="0.8" />
<rect x="151.95" y="655.90" width="2.20" height="2.20" fill="#8a8ac4" />
<text x="161.00" y="657.30" font-size="6.9" fill="#333" stroke="#333" stroke-width="0.1" textLength="71.4" lengthAdjust="spacingAndGlyphs" dominant-baseline="central" >APRIL-BB-1XX/gLuc-GFP</text>
<line x1="148.60" y1="667.00" x2="157.50" y2="667.00" stroke="#1f4a8c" stroke-width="0.8" />
<rect x="151.95" y="665.90" width="2.20" height="2.20" fill="#1f4a8c" />
<text x="161.00" y="667.30" font-size="6.9" fill="#333" stroke="#333" stroke-width="0.1" textLength="87.2" lengthAdjust="spacingAndGlyphs" dominant-baseline="central" >APRIL-BB-1XX/IL-18/gLuc-GFP</text>
<line x1="148.60" y1="676.30" x2="157.50" y2="676.30" stroke="#d0d0d6" stroke-width="0.8" />
<circle cx="153.05" cy="676.30" r="1.2" fill="#d0d0d6" />
<text x="161.00" y="676.60" font-size="6.9" fill="#333" stroke="#333" stroke-width="0.1" textLength="30.7" lengthAdjust="spacingAndGlyphs" dominant-baseline="central" >tumor only</text>
<text x="338.40" y="560.40" font-size="7.6" fill="#333" stroke="#333" stroke-width="0.1" text-anchor="middle" textLength="27" lengthAdjust="spacingAndGlyphs" dominant-baseline="central" >survival</text>
<text x="274.20" y="597.30" font-size="8.2" fill="#333" stroke="#333" stroke-width="0.1" text-anchor="middle" textLength="47" lengthAdjust="spacingAndGlyphs" dominant-baseline="central" transform="rotate(-90 274.20 597.30)" >Percent survival</text>
<polyline points="298.50,575.40 325.98,575.40 325.98,575.40 325.98,575.40 325.98,584.86 328.33,584.86 328.33,584.86 328.33,584.86 328.33,603.78 335.39,603.78 335.39,603.78 335.39,603.78 335.39,613.24 338.54,613.24 338.54,613.24 338.54,613.24 338.54,622.70" fill="none" stroke="#c8c8d0" stroke-width="0.7" />
<polyline points="298.50,575.40 324.40,575.40 324.40,575.40 325.98,575.40 325.98,580.13 327.55,580.13 327.55,584.86 330.69,584.86 330.69,589.59 331.47,589.59 331.47,603.78 335.39,603.78 335.39,613.24 370.72,613.24 370.72,613.24" fill="none" stroke="#a8a0d4" stroke-width="0.8" />
<polyline points="298.50,575.40 342.46,575.40 342.46,575.40 342.46,575.40 342.46,580.13 370.72,580.13 370.72,580.13" fill="none" stroke="#2a4a7c" stroke-width="0.8" />
<circle cx="370.72" cy="580.13" r="1.2" fill="#2a4a7c" />
<circle cx="370.72" cy="613.24" r="1.1" fill="#a8a0d4" />
<line x1="366.10" y1="582.80" x2="366.10" y2="610.50" stroke="#222" stroke-width="0.8" />
<line x1="369.30" y1="595.00" x2="369.30" y2="597.40" stroke="#222" stroke-width="0.55" />
<line x1="368.26" y1="595.60" x2="370.34" y2="596.80" stroke="#222" stroke-width="0.55" />
<line x1="368.26" y1="596.80" x2="370.34" y2="595.60" stroke="#222" stroke-width="0.55" />
<text x="300.80" y="606.50" font-size="6.8" fill="#333" stroke="#333" stroke-width="0.1" font-style="italic" dominant-baseline="central" >n = 10</text>
<text x="300.80" y="616.90" font-size="6.8" fill="#333" stroke="#333" stroke-width="0.1" font-style="italic" textLength="28" lengthAdjust="spacingAndGlyphs" dominant-baseline="central" >per group</text>
<line x1="297.30" y1="571.90" x2="297.30" y2="622.70" stroke="#222" stroke-width="0.9" />
<line x1="294.30" y1="575.40" x2="297.30" y2="575.40" stroke="#222" stroke-width="0.8" />
<text x="291.50" y="575.70" font-size="6.3" fill="#333" stroke="#333" stroke-width="0.1" text-anchor="end" dominant-baseline="central" >100</text>
<line x1="294.30" y1="599.20" x2="297.30" y2="599.20" stroke="#222" stroke-width="0.8" />
<text x="291.50" y="599.50" font-size="6.3" fill="#333" stroke="#333" stroke-width="0.1" text-anchor="end" dominant-baseline="central" >50</text>
<line x1="294.30" y1="622.70" x2="297.30" y2="622.70" stroke="#222" stroke-width="0.8" />
<text x="291.50" y="623.00" font-size="6.3" fill="#333" stroke="#333" stroke-width="0.1" text-anchor="end" dominant-baseline="central" >0</text>
<line x1="297.30" y1="622.70" x2="378.00" y2="622.70" stroke="#222" stroke-width="0.9" />
<line x1="298.50" y1="622.70" x2="298.50" y2="625.30" stroke="#222" stroke-width="0.8" />
<text x="298.50" y="631.90" font-size="6.3" fill="#333" stroke="#333" stroke-width="0.1" text-anchor="middle" dominant-baseline="central" >0</text>
<line x1="313.50" y1="622.70" x2="313.50" y2="625.30" stroke="#222" stroke-width="0.8" />
<text x="313.50" y="631.90" font-size="6.3" fill="#333" stroke="#333" stroke-width="0.1" text-anchor="middle" dominant-baseline="central" >20</text>
<line x1="329.60" y1="622.70" x2="329.60" y2="625.30" stroke="#222" stroke-width="0.8" />
<text x="329.60" y="631.90" font-size="6.3" fill="#333" stroke="#333" stroke-width="0.1" text-anchor="middle" dominant-baseline="central" >40</text>
<line x1="344.60" y1="622.70" x2="344.60" y2="625.30" stroke="#222" stroke-width="0.8" />
<text x="344.60" y="631.90" font-size="6.3" fill="#333" stroke="#333" stroke-width="0.1" text-anchor="middle" dominant-baseline="central" >60</text>
<line x1="360.80" y1="622.70" x2="360.80" y2="625.30" stroke="#222" stroke-width="0.8" />
<text x="360.80" y="631.90" font-size="6.3" fill="#333" stroke="#333" stroke-width="0.1" text-anchor="middle" dominant-baseline="central" >80</text>
<line x1="377.00" y1="622.70" x2="377.00" y2="625.30" stroke="#222" stroke-width="0.8" />
<text x="377.00" y="631.90" font-size="6.3" fill="#333" stroke="#333" stroke-width="0.1" text-anchor="middle" dominant-baseline="central" >100</text>
<text x="338.40" y="643.50" font-size="8.6" fill="#333" stroke="#333" stroke-width="0.1" text-anchor="middle" textLength="48.4" lengthAdjust="spacingAndGlyphs" dominant-baseline="central" >Days after tumor</text>
<text x="391.80" y="547.00" font-size="11.0" fill="#111" stroke="#111" stroke-width="0.1" font-weight="bold" dominant-baseline="central" >J</text>
<text x="409.70" y="547.20" font-size="8.9" fill="#333" stroke="#333" stroke-width="0.1" textLength="97.3" lengthAdjust="spacingAndGlyphs" dominant-baseline="central" >day 93 tumor rechallenge:</text>
<text x="417.5" y="557.4" font-size="8.2" fill="#333" dominant-baseline="central" textLength="83" lengthAdjust="spacingAndGlyphs">4E5 MOPC315.BM<tspan font-size="5" dy="-2.6">low</tspan></text>
<text x="395.40" y="598.60" font-size="8.2" fill="#333" stroke="#333" stroke-width="0.1" text-anchor="middle" textLength="47" lengthAdjust="spacingAndGlyphs" dominant-baseline="central" transform="rotate(-90 395.40 598.60)" >Percent survival</text>
<polyline points="457.00,575.00 457.00,583.00 476.00,583.00" fill="none" stroke="#c8c8cc" stroke-width="0.6" />
<polyline points="420.00,574.50 456.12,574.50 456.12,574.50 456.12,574.50 456.12,590.41 459.99,590.41 459.99,590.41 459.99,590.41 459.99,606.79 483.86,606.79 483.86,606.79 483.86,606.79 483.86,622.70" fill="none" stroke="#c4c4c8" stroke-width="0.7" />
<polyline points="417.00,574.50 484.50,574.50" fill="none" stroke="#2a5a8c" stroke-width="0.8" />
<circle cx="484.50" cy="574.50" r="1.2" fill="#1f4a8c" />
<line x1="479.80" y1="576.50" x2="479.80" y2="604.60" stroke="#222" stroke-width="0.8" />
<line x1="483.60" y1="589.30" x2="483.60" y2="591.70" stroke="#222" stroke-width="0.55" />
<line x1="482.56" y1="589.90" x2="484.64" y2="591.10" stroke="#222" stroke-width="0.55" />
<line x1="482.56" y1="591.10" x2="484.64" y2="589.90" stroke="#222" stroke-width="0.55" />
<text x="460.00" y="579.30" font-size="6.8" fill="#333" stroke="#333" stroke-width="0.1" font-style="italic" textLength="15" lengthAdjust="spacingAndGlyphs" dominant-baseline="central" >n = 4</text>
<text x="460.00" y="610.80" font-size="6.8" fill="#333" stroke="#333" stroke-width="0.1" font-style="italic" textLength="15" lengthAdjust="spacingAndGlyphs" dominant-baseline="central" >n = 3</text>
<line x1="416.70" y1="571.00" x2="416.70" y2="622.70" stroke="#222" stroke-width="0.9" />
<line x1="413.70" y1="574.50" x2="416.70" y2="574.50" stroke="#222" stroke-width="0.8" />
<text x="410.90" y="574.80" font-size="6.3" fill="#333" stroke="#333" stroke-width="0.1" text-anchor="end" dominant-baseline="central" >100</text>
<line x1="413.70" y1="598.60" x2="416.70" y2="598.60" stroke="#222" stroke-width="0.8" />
<text x="410.90" y="598.90" font-size="6.3" fill="#333" stroke="#333" stroke-width="0.1" text-anchor="end" dominant-baseline="central" >50</text>
<line x1="413.70" y1="622.70" x2="416.70" y2="622.70" stroke="#222" stroke-width="0.8" />
<text x="410.90" y="623.00" font-size="6.3" fill="#333" stroke="#333" stroke-width="0.1" text-anchor="end" dominant-baseline="central" >0</text>
<line x1="416.70" y1="622.70" x2="491.00" y2="622.70" stroke="#222" stroke-width="0.9" />
<line x1="420.00" y1="622.70" x2="420.00" y2="625.30" stroke="#222" stroke-width="0.8" />
<text x="420.00" y="631.70" font-size="6.3" fill="#333" stroke="#333" stroke-width="0.1" text-anchor="middle" dominant-baseline="central" >0</text>
<line x1="452.50" y1="622.70" x2="452.50" y2="625.30" stroke="#222" stroke-width="0.8" />
<text x="452.50" y="631.70" font-size="6.3" fill="#333" stroke="#333" stroke-width="0.1" text-anchor="middle" dominant-baseline="central" >50</text>
<line x1="484.40" y1="622.70" x2="484.40" y2="625.30" stroke="#222" stroke-width="0.8" />
<text x="484.40" y="631.70" font-size="6.3" fill="#333" stroke="#333" stroke-width="0.1" text-anchor="middle" dominant-baseline="central" >100</text>
<text x="459.00" y="642.20" font-size="8.6" fill="#333" stroke="#333" stroke-width="0.1" text-anchor="middle" textLength="83" lengthAdjust="spacingAndGlyphs" dominant-baseline="central" >Days after tumor rechallenge</text>
<line x1="390.00" y1="657.00" x2="399.00" y2="657.00" stroke="#1f4a8c" stroke-width="0.8" />
<circle cx="394.50" cy="657.00" r="1.2" fill="#1f4a8c" />
<text x="401.90" y="657.30" font-size="6.9" fill="#333" stroke="#333" stroke-width="0.1" textLength="111.6" lengthAdjust="spacingAndGlyphs" dominant-baseline="central" >APRIL-BB-1XX/IL-18 tumor rechallenge</text>
<line x1="390.00" y1="666.10" x2="399.00" y2="666.10" stroke="#c8c8cc" stroke-width="0.8" />
<circle cx="394.50" cy="666.10" r="1.2" fill="#c8c8cc" />
<text x="401.90" y="666.40" font-size="6.9" fill="#333" stroke="#333" stroke-width="0.1" textLength="103" lengthAdjust="spacingAndGlyphs" dominant-baseline="central" >tumor only control (non-irradiated)</text>
</svg>
</body></html>
